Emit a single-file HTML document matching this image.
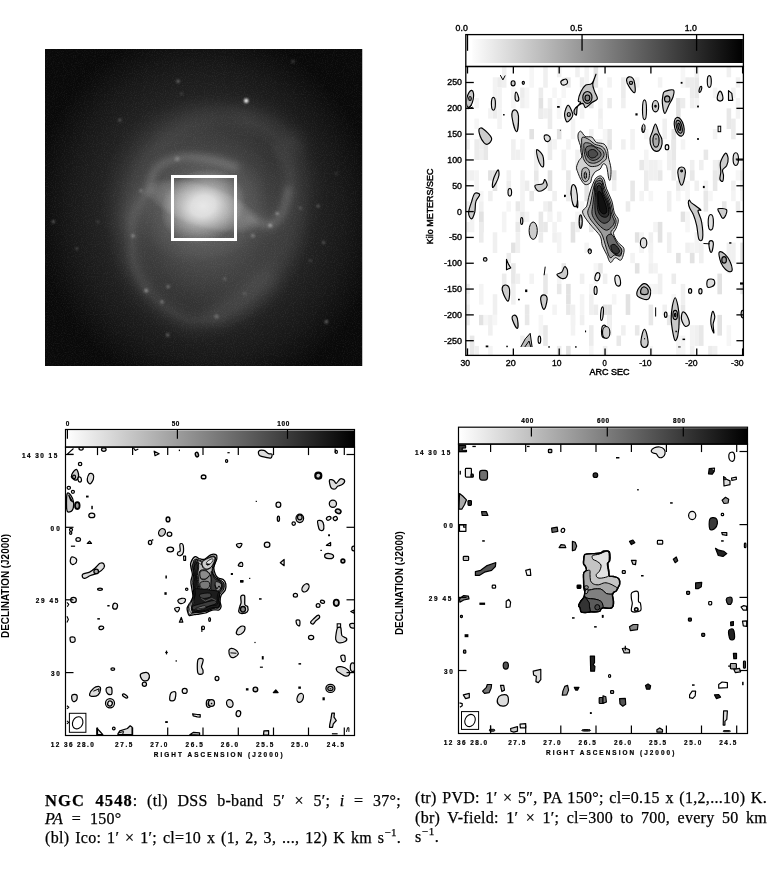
<!DOCTYPE html>
<html><head><meta charset="utf-8"><title>NGC 4548</title>
<style>
html,body{margin:0;padding:0;background:#fff;}
body{width:767px;height:872px;overflow:hidden;position:relative;font-family:"Liberation Serif", serif;}
svg{position:absolute;left:0;top:0;will-change:transform;}
.cap{will-change:transform;}
.cap{position:absolute;white-space:nowrap;font-family:"Liberation Serif",serif;font-size:16px;color:#000;line-height:18px;-webkit-text-stroke:0.25px #000;}
.cap sup{font-size:11px;line-height:0;position:relative;top:-1px;}
</style></head><body>
<svg width="767" height="872" viewBox="0 0 767 872">
<defs>
<filter id="b1" x="-50%" y="-50%" width="200%" height="200%"><feGaussianBlur stdDeviation="1.1"/></filter>
<filter id="b2" x="-50%" y="-50%" width="200%" height="200%"><feGaussianBlur stdDeviation="3.2"/></filter>
<filter id="b4" x="-50%" y="-50%" width="200%" height="200%"><feGaussianBlur stdDeviation="7"/></filter>
<filter id="b8" x="-50%" y="-50%" width="200%" height="200%"><feGaussianBlur stdDeviation="9"/></filter>
<radialGradient id="gdisk" cx="0.5" cy="0.5" r="0.5"><stop offset="0" stop-color="#fff" stop-opacity="0.42"/><stop offset="0.25" stop-color="#fff" stop-opacity="0.30"/><stop offset="0.5" stop-color="#fff" stop-opacity="0.17"/><stop offset="0.75" stop-color="#fff" stop-opacity="0.07"/><stop offset="1" stop-color="#fff" stop-opacity="0"/></radialGradient>
<radialGradient id="gcore" cx="0.5" cy="0.5" r="0.5"><stop offset="0" stop-color="#fff" stop-opacity="0.95"/><stop offset="0.3" stop-color="#fff" stop-opacity="0.7"/><stop offset="0.6" stop-color="#fff" stop-opacity="0.3"/><stop offset="1" stop-color="#fff" stop-opacity="0"/></radialGradient>
<linearGradient id="cbar" x1="0" x2="1" y1="0" y2="0"><stop offset="0" stop-color="#ffffff"/><stop offset="1" stop-color="#000000"/></linearGradient>
<clipPath id="cg"><rect x="45" y="49" width="317.5" height="317"/></clipPath>
<clipPath id="ctr"><rect x="466.5" y="66" width="277" height="289.5"/></clipPath>
<clipPath id="cbl"><rect x="65.5" y="447" width="289" height="288.5"/></clipPath>
<clipPath id="cbr"><rect x="458.5" y="444" width="289" height="289.5"/></clipPath>
</defs>
<defs>
<radialGradient id="g_out" cx="0.5" cy="0.5" r="0.5"><stop offset="0" stop-color="#fff" stop-opacity="0.17"/><stop offset="0.3" stop-color="#fff" stop-opacity="0.15"/><stop offset="0.55" stop-color="#fff" stop-opacity="0.115"/><stop offset="0.8" stop-color="#fff" stop-opacity="0.06"/><stop offset="1" stop-color="#fff" stop-opacity="0.0"/></radialGradient>
<radialGradient id="g_mid" cx="0.5" cy="0.5" r="0.5"><stop offset="0" stop-color="#fff" stop-opacity="0.17"/><stop offset="0.35" stop-color="#fff" stop-opacity="0.15"/><stop offset="0.65" stop-color="#fff" stop-opacity="0.085"/><stop offset="1" stop-color="#fff" stop-opacity="0"/></radialGradient>
<radialGradient id="g_ring" cx="0.5" cy="0.5" r="0.5"><stop offset="0" stop-color="#fff" stop-opacity="0.12"/><stop offset="0.5" stop-color="#fff" stop-opacity="0.09"/><stop offset="0.8" stop-color="#fff" stop-opacity="0.04"/><stop offset="1" stop-color="#fff" stop-opacity="0"/></radialGradient>
<radialGradient id="g_bar" cx="0.5" cy="0.5" r="0.5"><stop offset="0" stop-color="#fff" stop-opacity="0.3"/><stop offset="0.45" stop-color="#fff" stop-opacity="0.25"/><stop offset="0.8" stop-color="#fff" stop-opacity="0.14"/><stop offset="1" stop-color="#fff" stop-opacity="0"/></radialGradient>
<radialGradient id="g_core" cx="0.5" cy="0.5" r="0.5"><stop offset="0" stop-color="#fff" stop-opacity="0.78"/><stop offset="0.28" stop-color="#fff" stop-opacity="0.7"/><stop offset="0.52" stop-color="#fff" stop-opacity="0.44"/><stop offset="0.78" stop-color="#fff" stop-opacity="0.18"/><stop offset="1" stop-color="#fff" stop-opacity="0"/></radialGradient>
<filter id="grain" x="0" y="0" width="100%" height="100%"><feTurbulence type="fractalNoise" baseFrequency="0.9" numOctaves="2" seed="3" result="n"/><feColorMatrix type="matrix" values="0 0 0 0 1  0 0 0 0 1  0 0 0 0 1  0.9 0 0 0 -0.38"/></filter>
</defs>
<g clip-path="url(#cg)">
<rect x="45" y="49" width="317.5" height="317" fill="#090909"/>
<ellipse cx="207" cy="212" rx="172" ry="185" fill="url(#g_out)" transform="rotate(-15 207 212)"/>
<ellipse cx="206" cy="212" rx="105" ry="118" fill="url(#g_mid)" transform="rotate(-15 206 212)"/>
<path d="M127.6 222.6C128.7 216.4 129.7 197.1 133.8 185.4C138.0 173.7 144.5 161.9 152.4 152.3C160.4 142.7 170.3 133.7 181.4 127.5C192.4 121.3 205.5 116.8 218.6 115.1C231.6 113.4 247.5 112.7 259.9 117.2C272.3 121.7 287.4 137.8 292.9 142.0" fill="none" stroke="#fff" stroke-opacity="0.05" stroke-width="20" stroke-linecap="round" filter="url(#b4)"/>
<path d="M292.9 144.0C294.7 150.9 302.9 171.6 303.3 185.4C303.6 199.1 299.5 213.6 295.0 226.7C290.5 239.8 284.3 253.2 276.4 263.9C268.5 274.6 257.1 282.5 247.5 290.7C237.8 299.0 223.4 309.7 218.6 313.5" fill="none" stroke="#fff" stroke-opacity="0.05" stroke-width="20" stroke-linecap="round" filter="url(#b4)"/>
<path d="M146.2 193.6C144.2 197.1 136.3 207.4 133.8 214.3C131.4 221.2 131.8 226.7 131.8 235.0C131.8 243.2 131.4 254.9 133.8 263.9C136.3 272.8 141.1 281.4 146.2 288.7C151.4 295.9 157.6 301.9 164.8 307.3C172.1 312.6 180.7 319.2 189.6 320.9C198.6 322.6 209.6 320.2 218.6 317.6C227.5 315.0 235.1 311.4 243.3 305.2C251.6 299.0 264.0 284.5 268.1 280.4" fill="none" stroke="#fff" stroke-opacity="0.065" stroke-width="20" stroke-linecap="round" filter="url(#b4)"/>
<path d="M251.6 219.2C254.7 220.1 265.0 225.8 270.2 224.6C275.4 223.4 279.4 218.8 282.6 212.2C285.8 205.7 288.9 195.3 289.6 185.4C290.3 175.4 290.0 161.3 286.7 152.3C283.5 143.4 277.4 137.2 270.2 131.6C263.0 126.1 247.8 121.3 243.3 119.2" fill="none" stroke="#fff" stroke-opacity="0.055" stroke-width="18" stroke-linecap="round" filter="url(#b4)"/>
<path d="M148.3 191.6C149.7 187.8 151.1 174.6 156.6 168.8C162.1 163.1 172.4 158.8 181.4 157.3C190.3 155.7 201.3 158.2 210.3 159.7C219.2 161.3 231.0 165.6 235.1 166.8" fill="none" stroke="#fff" stroke-opacity="0.17" stroke-width="8" stroke-linecap="round" filter="url(#b2)"/>
<path d="M146.2 193.6C144.2 197.1 136.3 207.4 133.8 214.3C131.4 221.2 131.8 226.7 131.8 235.0C131.8 243.2 131.4 254.9 133.8 263.9C136.3 272.8 144.2 284.5 146.2 288.7" fill="none" stroke="#fff" stroke-opacity="0.07" stroke-width="7" stroke-linecap="round" filter="url(#b2)"/>
<path d="M251.6 219.2C254.7 220.1 265.0 225.8 270.2 224.6C275.4 223.4 279.5 218.1 282.6 212.2C285.7 206.4 287.8 193.3 288.8 189.5" fill="none" stroke="#fff" stroke-opacity="0.14" stroke-width="8" stroke-linecap="round" filter="url(#b2)"/>
<path d="M146.2 288.7C149.3 291.8 157.6 301.9 164.8 307.3C172.1 312.6 180.7 319.2 189.6 320.9C198.6 322.6 213.7 318.1 218.6 317.6" fill="none" stroke="#fff" stroke-opacity="0.04" stroke-width="7" stroke-linecap="round" filter="url(#b2)"/>
<path d="M276.4 148.2C278.5 152.3 287.1 164.7 288.8 173.0C290.5 181.2 287.1 193.6 286.7 197.8" fill="none" stroke="#fff" stroke-opacity="0.04" stroke-width="7" stroke-linecap="round" filter="url(#b2)"/>
<ellipse cx="203" cy="207" rx="68" ry="56" fill="url(#g_ring)" transform="rotate(-15 203 207)"/>
<ellipse cx="203" cy="206" rx="60" ry="22" fill="url(#g_bar)" transform="rotate(18 203 206)"/>
<ellipse cx="203" cy="206" rx="44" ry="36" fill="url(#g_core)" transform="rotate(-25 203 206)"/>
<circle cx="246.2" cy="100.7" r="2.2" fill="#fff" fill-opacity="0.95" filter="url(#b1)"/>
<circle cx="178.1" cy="81.2" r="1.6" fill="#fff" fill-opacity="0.35" filter="url(#b1)"/>
<circle cx="181.4" cy="93.6" r="1.2" fill="#fff" fill-opacity="0.25" filter="url(#b1)"/>
<circle cx="119.8" cy="120.1" r="1.5" fill="#fff" fill-opacity="0.3" filter="url(#b1)"/>
<circle cx="292.9" cy="61.4" r="1.6" fill="#fff" fill-opacity="0.22" filter="url(#b1)"/>
<circle cx="53.3" cy="221.7" r="1.6" fill="#fff" fill-opacity="0.3" filter="url(#b1)"/>
<circle cx="76.8" cy="248.6" r="1.3" fill="#fff" fill-opacity="0.25" filter="url(#b1)"/>
<circle cx="133.0" cy="235.8" r="1.9" fill="#fff" fill-opacity="0.3" filter="url(#b1)"/>
<circle cx="140.9" cy="190.7" r="1.6" fill="#fff" fill-opacity="0.25" filter="url(#b1)"/>
<circle cx="146.2" cy="290.7" r="1.9" fill="#fff" fill-opacity="0.4" filter="url(#b1)"/>
<circle cx="168.1" cy="286.6" r="1.6" fill="#fff" fill-opacity="0.35" filter="url(#b1)"/>
<circle cx="161.9" cy="301.9" r="1.7" fill="#fff" fill-opacity="0.35" filter="url(#b1)"/>
<circle cx="167.7" cy="335.0" r="1.8" fill="#fff" fill-opacity="0.3" filter="url(#b1)"/>
<circle cx="216.5" cy="316.4" r="2.0" fill="#fff" fill-opacity="0.25" filter="url(#b1)"/>
<circle cx="270.2" cy="225.4" r="2.0" fill="#fff" fill-opacity="0.42" filter="url(#b1)"/>
<circle cx="277.2" cy="213.5" r="1.6" fill="#fff" fill-opacity="0.4" filter="url(#b1)"/>
<circle cx="252.9" cy="235.8" r="2.0" fill="#fff" fill-opacity="0.25" filter="url(#b1)"/>
<circle cx="318.1" cy="206.0" r="1.5" fill="#fff" fill-opacity="0.3" filter="url(#b1)"/>
<circle cx="323.5" cy="242.4" r="1.5" fill="#fff" fill-opacity="0.28" filter="url(#b1)"/>
<circle cx="310.3" cy="260.6" r="1.3" fill="#fff" fill-opacity="0.22" filter="url(#b1)"/>
<circle cx="326.4" cy="321.7" r="1.8" fill="#fff" fill-opacity="0.35" filter="url(#b1)"/>
<circle cx="336.3" cy="173.8" r="1.2" fill="#fff" fill-opacity="0.18" filter="url(#b1)"/>
<circle cx="300.4" cy="208.1" r="1.4" fill="#fff" fill-opacity="0.25" filter="url(#b1)"/>
<circle cx="177.2" cy="158.9" r="2.4" fill="#fff" fill-opacity="0.22" filter="url(#b1)"/>
<circle cx="224.8" cy="278.8" r="1.6" fill="#fff" fill-opacity="0.2" filter="url(#b1)"/>
<circle cx="244.6" cy="293.6" r="1.4" fill="#fff" fill-opacity="0.2" filter="url(#b1)"/>
<circle cx="97.9" cy="221.7" r="1.3" fill="#fff" fill-opacity="0.2" filter="url(#b1)"/>
<rect x="45" y="49" width="317.5" height="317" fill="#fff" opacity="0.16" filter="url(#grain)"/>
</g>
<rect x="172.5" y="176.5" width="63" height="63" fill="none" stroke="#fff" stroke-width="3"/>
<rect x="469.8" y="39" width="273.09999999999997" height="24" fill="url(#cbar)"/>
<rect x="466.3" y="39" width="6" height="24" fill="#fff"/>
<g clip-path="url(#ctr)">
<rect x="465.2" y="98.0" width="4.58" height="10.3" fill="rgb(243,243,243)"/>
<rect x="465.2" y="139.3" width="4.58" height="10.3" fill="rgb(240,240,240)"/>
<rect x="465.2" y="170.3" width="4.58" height="10.3" fill="rgb(243,243,243)"/>
<rect x="465.2" y="201.3" width="4.58" height="10.3" fill="rgb(240,240,240)"/>
<rect x="465.2" y="221.9" width="4.58" height="10.3" fill="rgb(240,240,240)"/>
<rect x="465.2" y="283.9" width="4.58" height="10.3" fill="rgb(236,236,236)"/>
<rect x="465.2" y="294.2" width="4.58" height="20.7" fill="rgb(243,243,243)"/>
<rect x="465.2" y="304.6" width="4.58" height="20.7" fill="rgb(236,236,236)"/>
<rect x="469.8" y="170.3" width="4.58" height="10.3" fill="rgb(240,240,240)"/>
<rect x="469.8" y="211.6" width="4.58" height="20.7" fill="rgb(243,243,243)"/>
<rect x="469.8" y="335.6" width="4.58" height="20.7" fill="rgb(232,232,232)"/>
<rect x="474.4" y="98.0" width="4.58" height="10.3" fill="rgb(244,244,244)"/>
<rect x="474.4" y="118.6" width="4.58" height="10.3" fill="rgb(246,246,246)"/>
<rect x="474.4" y="139.3" width="4.58" height="20.7" fill="rgb(236,236,236)"/>
<rect x="474.4" y="170.3" width="4.58" height="20.7" fill="rgb(244,244,244)"/>
<rect x="474.4" y="345.9" width="4.58" height="20.7" fill="rgb(240,240,240)"/>
<rect x="479.0" y="129.0" width="4.58" height="20.7" fill="rgb(240,240,240)"/>
<rect x="479.0" y="149.6" width="4.58" height="10.3" fill="rgb(240,240,240)"/>
<rect x="479.0" y="190.9" width="4.58" height="10.3" fill="rgb(246,246,246)"/>
<rect x="479.0" y="201.3" width="4.58" height="20.7" fill="rgb(240,240,240)"/>
<rect x="479.0" y="211.6" width="4.58" height="20.7" fill="rgb(226,226,226)"/>
<rect x="479.0" y="221.9" width="4.58" height="20.7" fill="rgb(236,236,236)"/>
<rect x="479.0" y="283.9" width="4.58" height="20.7" fill="rgb(244,244,244)"/>
<rect x="479.0" y="314.9" width="4.58" height="10.3" fill="rgb(226,226,226)"/>
<rect x="483.5" y="139.3" width="4.58" height="20.7" fill="rgb(232,232,232)"/>
<rect x="483.5" y="314.9" width="4.58" height="10.3" fill="rgb(246,246,246)"/>
<rect x="488.1" y="108.3" width="4.58" height="10.3" fill="rgb(243,243,243)"/>
<rect x="488.1" y="170.3" width="4.58" height="10.3" fill="rgb(226,226,226)"/>
<rect x="488.1" y="190.9" width="4.58" height="10.3" fill="rgb(240,240,240)"/>
<rect x="488.1" y="314.9" width="4.58" height="20.7" fill="rgb(240,240,240)"/>
<rect x="488.1" y="345.9" width="4.58" height="10.3" fill="rgb(244,244,244)"/>
<rect x="492.7" y="77.3" width="4.58" height="20.7" fill="rgb(243,243,243)"/>
<rect x="492.7" y="98.0" width="4.58" height="10.3" fill="rgb(236,236,236)"/>
<rect x="492.7" y="108.3" width="4.58" height="10.3" fill="rgb(236,236,236)"/>
<rect x="492.7" y="170.3" width="4.58" height="20.7" fill="rgb(226,226,226)"/>
<rect x="492.7" y="232.3" width="4.58" height="20.7" fill="rgb(240,240,240)"/>
<rect x="492.7" y="294.2" width="4.58" height="20.7" fill="rgb(240,240,240)"/>
<rect x="492.7" y="314.9" width="4.58" height="10.3" fill="rgb(246,246,246)"/>
<rect x="497.3" y="77.3" width="4.58" height="10.3" fill="rgb(236,236,236)"/>
<rect x="497.3" y="87.6" width="4.58" height="20.7" fill="rgb(243,243,243)"/>
<rect x="497.3" y="108.3" width="4.58" height="20.7" fill="rgb(243,243,243)"/>
<rect x="497.3" y="356.2" width="4.58" height="10.3" fill="rgb(240,240,240)"/>
<rect x="501.9" y="67.0" width="4.58" height="20.7" fill="rgb(240,240,240)"/>
<rect x="501.9" y="211.6" width="4.58" height="20.7" fill="rgb(244,244,244)"/>
<rect x="501.9" y="273.6" width="4.58" height="10.3" fill="rgb(236,236,236)"/>
<rect x="501.9" y="283.9" width="4.58" height="10.3" fill="rgb(232,232,232)"/>
<rect x="506.5" y="170.3" width="4.58" height="10.3" fill="rgb(243,243,243)"/>
<rect x="506.5" y="180.6" width="4.58" height="10.3" fill="rgb(236,236,236)"/>
<rect x="506.5" y="201.3" width="4.58" height="10.3" fill="rgb(246,246,246)"/>
<rect x="506.5" y="252.9" width="4.58" height="10.3" fill="rgb(236,236,236)"/>
<rect x="511.1" y="87.6" width="4.58" height="20.7" fill="rgb(246,246,246)"/>
<rect x="511.1" y="139.3" width="4.58" height="20.7" fill="rgb(240,240,240)"/>
<rect x="511.1" y="242.6" width="4.58" height="10.3" fill="rgb(226,226,226)"/>
<rect x="511.1" y="263.2" width="4.58" height="20.7" fill="rgb(232,232,232)"/>
<rect x="511.1" y="283.9" width="4.58" height="20.7" fill="rgb(240,240,240)"/>
<rect x="515.6" y="149.6" width="4.58" height="10.3" fill="rgb(240,240,240)"/>
<rect x="515.6" y="201.3" width="4.58" height="10.3" fill="rgb(232,232,232)"/>
<rect x="515.6" y="211.6" width="4.58" height="20.7" fill="rgb(246,246,246)"/>
<rect x="515.6" y="221.9" width="4.58" height="10.3" fill="rgb(232,232,232)"/>
<rect x="515.6" y="232.3" width="4.58" height="20.7" fill="rgb(240,240,240)"/>
<rect x="515.6" y="273.6" width="4.58" height="10.3" fill="rgb(240,240,240)"/>
<rect x="520.2" y="87.6" width="4.58" height="10.3" fill="rgb(236,236,236)"/>
<rect x="520.2" y="98.0" width="4.58" height="10.3" fill="rgb(240,240,240)"/>
<rect x="520.2" y="139.3" width="4.58" height="20.7" fill="rgb(246,246,246)"/>
<rect x="520.2" y="170.3" width="4.58" height="20.7" fill="rgb(243,243,243)"/>
<rect x="520.2" y="190.9" width="4.58" height="20.7" fill="rgb(243,243,243)"/>
<rect x="520.2" y="211.6" width="4.58" height="10.3" fill="rgb(232,232,232)"/>
<rect x="520.2" y="335.6" width="4.58" height="10.3" fill="rgb(240,240,240)"/>
<rect x="524.8" y="87.6" width="4.58" height="20.7" fill="rgb(246,246,246)"/>
<rect x="524.8" y="180.6" width="4.58" height="10.3" fill="rgb(236,236,236)"/>
<rect x="524.8" y="211.6" width="4.58" height="10.3" fill="rgb(244,244,244)"/>
<rect x="524.8" y="304.6" width="4.58" height="10.3" fill="rgb(232,232,232)"/>
<rect x="524.8" y="314.9" width="4.58" height="10.3" fill="rgb(232,232,232)"/>
<rect x="529.4" y="67.0" width="4.58" height="20.7" fill="rgb(246,246,246)"/>
<rect x="529.4" y="129.0" width="4.58" height="10.3" fill="rgb(226,226,226)"/>
<rect x="529.4" y="190.9" width="4.58" height="10.3" fill="rgb(232,232,232)"/>
<rect x="529.4" y="273.6" width="4.58" height="10.3" fill="rgb(243,243,243)"/>
<rect x="534.0" y="149.6" width="4.58" height="20.7" fill="rgb(240,240,240)"/>
<rect x="534.0" y="170.3" width="4.58" height="20.7" fill="rgb(232,232,232)"/>
<rect x="534.0" y="180.6" width="4.58" height="10.3" fill="rgb(240,240,240)"/>
<rect x="538.6" y="87.6" width="4.58" height="10.3" fill="rgb(236,236,236)"/>
<rect x="538.6" y="98.0" width="4.58" height="20.7" fill="rgb(226,226,226)"/>
<rect x="538.6" y="108.3" width="4.58" height="10.3" fill="rgb(236,236,236)"/>
<rect x="538.6" y="211.6" width="4.58" height="20.7" fill="rgb(232,232,232)"/>
<rect x="538.6" y="232.3" width="4.58" height="10.3" fill="rgb(236,236,236)"/>
<rect x="538.6" y="314.9" width="4.58" height="20.7" fill="rgb(246,246,246)"/>
<rect x="543.2" y="67.0" width="4.58" height="20.7" fill="rgb(240,240,240)"/>
<rect x="543.2" y="108.3" width="4.58" height="10.3" fill="rgb(240,240,240)"/>
<rect x="543.2" y="201.3" width="4.58" height="10.3" fill="rgb(240,240,240)"/>
<rect x="543.2" y="221.9" width="4.58" height="10.3" fill="rgb(232,232,232)"/>
<rect x="543.2" y="273.6" width="4.58" height="20.7" fill="rgb(232,232,232)"/>
<rect x="543.2" y="325.2" width="4.58" height="20.7" fill="rgb(232,232,232)"/>
<rect x="547.7" y="98.0" width="4.58" height="10.3" fill="rgb(240,240,240)"/>
<rect x="547.7" y="108.3" width="4.58" height="20.7" fill="rgb(236,236,236)"/>
<rect x="547.7" y="139.3" width="4.58" height="20.7" fill="rgb(236,236,236)"/>
<rect x="547.7" y="170.3" width="4.58" height="20.7" fill="rgb(226,226,226)"/>
<rect x="547.7" y="201.3" width="4.58" height="20.7" fill="rgb(232,232,232)"/>
<rect x="547.7" y="211.6" width="4.58" height="10.3" fill="rgb(244,244,244)"/>
<rect x="547.7" y="356.2" width="4.58" height="10.3" fill="rgb(240,240,240)"/>
<rect x="552.3" y="87.6" width="4.58" height="10.3" fill="rgb(246,246,246)"/>
<rect x="552.3" y="139.3" width="4.58" height="10.3" fill="rgb(243,243,243)"/>
<rect x="552.3" y="190.9" width="4.58" height="10.3" fill="rgb(240,240,240)"/>
<rect x="552.3" y="221.9" width="4.58" height="10.3" fill="rgb(243,243,243)"/>
<rect x="552.3" y="232.3" width="4.58" height="10.3" fill="rgb(240,240,240)"/>
<rect x="552.3" y="304.6" width="4.58" height="10.3" fill="rgb(244,244,244)"/>
<rect x="556.9" y="67.0" width="4.58" height="10.3" fill="rgb(240,240,240)"/>
<rect x="556.9" y="98.0" width="4.58" height="20.7" fill="rgb(246,246,246)"/>
<rect x="556.9" y="108.3" width="4.58" height="10.3" fill="rgb(246,246,246)"/>
<rect x="556.9" y="129.0" width="4.58" height="10.3" fill="rgb(226,226,226)"/>
<rect x="556.9" y="211.6" width="4.58" height="10.3" fill="rgb(243,243,243)"/>
<rect x="556.9" y="232.3" width="4.58" height="20.7" fill="rgb(244,244,244)"/>
<rect x="556.9" y="273.6" width="4.58" height="10.3" fill="rgb(244,244,244)"/>
<rect x="556.9" y="283.9" width="4.58" height="10.3" fill="rgb(232,232,232)"/>
<rect x="556.9" y="345.9" width="4.58" height="20.7" fill="rgb(236,236,236)"/>
<rect x="561.5" y="77.3" width="4.58" height="20.7" fill="rgb(246,246,246)"/>
<rect x="561.5" y="149.6" width="4.58" height="20.7" fill="rgb(243,243,243)"/>
<rect x="561.5" y="263.2" width="4.58" height="10.3" fill="rgb(232,232,232)"/>
<rect x="566.1" y="77.3" width="4.58" height="10.3" fill="rgb(232,232,232)"/>
<rect x="566.1" y="139.3" width="4.58" height="10.3" fill="rgb(244,244,244)"/>
<rect x="566.1" y="170.3" width="4.58" height="10.3" fill="rgb(232,232,232)"/>
<rect x="566.1" y="180.6" width="4.58" height="20.7" fill="rgb(236,236,236)"/>
<rect x="566.1" y="283.9" width="4.58" height="10.3" fill="rgb(226,226,226)"/>
<rect x="566.1" y="294.2" width="4.58" height="10.3" fill="rgb(226,226,226)"/>
<rect x="566.1" y="304.6" width="4.58" height="10.3" fill="rgb(232,232,232)"/>
<rect x="566.1" y="345.9" width="4.58" height="20.7" fill="rgb(226,226,226)"/>
<rect x="570.7" y="118.6" width="4.58" height="20.7" fill="rgb(243,243,243)"/>
<rect x="570.7" y="221.9" width="4.58" height="20.7" fill="rgb(226,226,226)"/>
<rect x="570.7" y="304.6" width="4.58" height="20.7" fill="rgb(240,240,240)"/>
<rect x="570.7" y="314.9" width="4.58" height="20.7" fill="rgb(243,243,243)"/>
<rect x="570.7" y="356.2" width="4.58" height="20.7" fill="rgb(246,246,246)"/>
<rect x="575.2" y="67.0" width="4.58" height="10.3" fill="rgb(240,240,240)"/>
<rect x="575.2" y="149.6" width="4.58" height="20.7" fill="rgb(240,240,240)"/>
<rect x="575.2" y="211.6" width="4.58" height="10.3" fill="rgb(244,244,244)"/>
<rect x="575.2" y="221.9" width="4.58" height="10.3" fill="rgb(240,240,240)"/>
<rect x="579.8" y="77.3" width="4.58" height="10.3" fill="rgb(236,236,236)"/>
<rect x="579.8" y="87.6" width="4.58" height="10.3" fill="rgb(246,246,246)"/>
<rect x="579.8" y="98.0" width="4.58" height="20.7" fill="rgb(244,244,244)"/>
<rect x="579.8" y="201.3" width="4.58" height="20.7" fill="rgb(244,244,244)"/>
<rect x="579.8" y="273.6" width="4.58" height="10.3" fill="rgb(240,240,240)"/>
<rect x="579.8" y="294.2" width="4.58" height="20.7" fill="rgb(244,244,244)"/>
<rect x="579.8" y="314.9" width="4.58" height="10.3" fill="rgb(240,240,240)"/>
<rect x="579.8" y="356.2" width="4.58" height="10.3" fill="rgb(240,240,240)"/>
<rect x="584.4" y="67.0" width="4.58" height="20.7" fill="rgb(243,243,243)"/>
<rect x="584.4" y="180.6" width="4.58" height="20.7" fill="rgb(226,226,226)"/>
<rect x="584.4" y="242.6" width="4.58" height="10.3" fill="rgb(244,244,244)"/>
<rect x="589.0" y="87.6" width="4.58" height="20.7" fill="rgb(226,226,226)"/>
<rect x="589.0" y="129.0" width="4.58" height="10.3" fill="rgb(240,240,240)"/>
<rect x="589.0" y="221.9" width="4.58" height="10.3" fill="rgb(232,232,232)"/>
<rect x="589.0" y="283.9" width="4.58" height="10.3" fill="rgb(246,246,246)"/>
<rect x="589.0" y="294.2" width="4.58" height="20.7" fill="rgb(240,240,240)"/>
<rect x="589.0" y="325.2" width="4.58" height="20.7" fill="rgb(236,236,236)"/>
<rect x="589.0" y="345.9" width="4.58" height="20.7" fill="rgb(246,246,246)"/>
<rect x="593.6" y="67.0" width="4.58" height="20.7" fill="rgb(226,226,226)"/>
<rect x="593.6" y="139.3" width="4.58" height="10.3" fill="rgb(236,236,236)"/>
<rect x="593.6" y="159.9" width="4.58" height="10.3" fill="rgb(240,240,240)"/>
<rect x="593.6" y="190.9" width="4.58" height="20.7" fill="rgb(226,226,226)"/>
<rect x="593.6" y="263.2" width="4.58" height="20.7" fill="rgb(246,246,246)"/>
<rect x="593.6" y="304.6" width="4.58" height="10.3" fill="rgb(236,236,236)"/>
<rect x="598.2" y="87.6" width="4.58" height="20.7" fill="rgb(246,246,246)"/>
<rect x="598.2" y="108.3" width="4.58" height="20.7" fill="rgb(240,240,240)"/>
<rect x="598.2" y="118.6" width="4.58" height="10.3" fill="rgb(244,244,244)"/>
<rect x="598.2" y="139.3" width="4.58" height="10.3" fill="rgb(236,236,236)"/>
<rect x="598.2" y="149.6" width="4.58" height="10.3" fill="rgb(232,232,232)"/>
<rect x="598.2" y="263.2" width="4.58" height="10.3" fill="rgb(232,232,232)"/>
<rect x="602.8" y="129.0" width="4.58" height="20.7" fill="rgb(246,246,246)"/>
<rect x="602.8" y="221.9" width="4.58" height="10.3" fill="rgb(243,243,243)"/>
<rect x="602.8" y="273.6" width="4.58" height="10.3" fill="rgb(240,240,240)"/>
<rect x="602.8" y="304.6" width="4.58" height="10.3" fill="rgb(226,226,226)"/>
<rect x="602.8" y="345.9" width="4.58" height="10.3" fill="rgb(240,240,240)"/>
<rect x="607.3" y="77.3" width="4.58" height="10.3" fill="rgb(243,243,243)"/>
<rect x="607.3" y="98.0" width="4.58" height="10.3" fill="rgb(236,236,236)"/>
<rect x="607.3" y="129.0" width="4.58" height="10.3" fill="rgb(232,232,232)"/>
<rect x="607.3" y="139.3" width="4.58" height="10.3" fill="rgb(226,226,226)"/>
<rect x="607.3" y="211.6" width="4.58" height="10.3" fill="rgb(243,243,243)"/>
<rect x="607.3" y="232.3" width="4.58" height="10.3" fill="rgb(236,236,236)"/>
<rect x="607.3" y="304.6" width="4.58" height="20.7" fill="rgb(226,226,226)"/>
<rect x="607.3" y="314.9" width="4.58" height="20.7" fill="rgb(240,240,240)"/>
<rect x="611.9" y="170.3" width="4.58" height="10.3" fill="rgb(226,226,226)"/>
<rect x="611.9" y="180.6" width="4.58" height="10.3" fill="rgb(240,240,240)"/>
<rect x="611.9" y="294.2" width="4.58" height="10.3" fill="rgb(246,246,246)"/>
<rect x="616.5" y="335.6" width="4.58" height="10.3" fill="rgb(232,232,232)"/>
<rect x="621.1" y="77.3" width="4.58" height="20.7" fill="rgb(236,236,236)"/>
<rect x="621.1" y="98.0" width="4.58" height="10.3" fill="rgb(240,240,240)"/>
<rect x="621.1" y="139.3" width="4.58" height="10.3" fill="rgb(240,240,240)"/>
<rect x="621.1" y="325.2" width="4.58" height="10.3" fill="rgb(240,240,240)"/>
<rect x="625.7" y="201.3" width="4.58" height="10.3" fill="rgb(236,236,236)"/>
<rect x="625.7" y="294.2" width="4.58" height="20.7" fill="rgb(226,226,226)"/>
<rect x="630.3" y="129.0" width="4.58" height="20.7" fill="rgb(243,243,243)"/>
<rect x="630.3" y="180.6" width="4.58" height="20.7" fill="rgb(232,232,232)"/>
<rect x="630.3" y="252.9" width="4.58" height="10.3" fill="rgb(243,243,243)"/>
<rect x="634.9" y="77.3" width="4.58" height="10.3" fill="rgb(244,244,244)"/>
<rect x="634.9" y="232.3" width="4.58" height="10.3" fill="rgb(226,226,226)"/>
<rect x="634.9" y="263.2" width="4.58" height="10.3" fill="rgb(226,226,226)"/>
<rect x="634.9" y="325.2" width="4.58" height="10.3" fill="rgb(232,232,232)"/>
<rect x="639.4" y="159.9" width="4.58" height="10.3" fill="rgb(232,232,232)"/>
<rect x="639.4" y="190.9" width="4.58" height="10.3" fill="rgb(244,244,244)"/>
<rect x="639.4" y="232.3" width="4.58" height="20.7" fill="rgb(244,244,244)"/>
<rect x="639.4" y="242.6" width="4.58" height="10.3" fill="rgb(244,244,244)"/>
<rect x="644.0" y="129.0" width="4.58" height="10.3" fill="rgb(246,246,246)"/>
<rect x="644.0" y="149.6" width="4.58" height="20.7" fill="rgb(244,244,244)"/>
<rect x="644.0" y="170.3" width="4.58" height="20.7" fill="rgb(236,236,236)"/>
<rect x="648.6" y="159.9" width="4.58" height="20.7" fill="rgb(240,240,240)"/>
<rect x="648.6" y="190.9" width="4.58" height="10.3" fill="rgb(246,246,246)"/>
<rect x="648.6" y="232.3" width="4.58" height="20.7" fill="rgb(240,240,240)"/>
<rect x="648.6" y="242.6" width="4.58" height="10.3" fill="rgb(243,243,243)"/>
<rect x="648.6" y="252.9" width="4.58" height="10.3" fill="rgb(244,244,244)"/>
<rect x="648.6" y="263.2" width="4.58" height="10.3" fill="rgb(240,240,240)"/>
<rect x="648.6" y="283.9" width="4.58" height="10.3" fill="rgb(246,246,246)"/>
<rect x="648.6" y="304.6" width="4.58" height="20.7" fill="rgb(232,232,232)"/>
<rect x="648.6" y="345.9" width="4.58" height="20.7" fill="rgb(246,246,246)"/>
<rect x="653.2" y="159.9" width="4.58" height="20.7" fill="rgb(240,240,240)"/>
<rect x="653.2" y="221.9" width="4.58" height="10.3" fill="rgb(244,244,244)"/>
<rect x="653.2" y="263.2" width="4.58" height="10.3" fill="rgb(243,243,243)"/>
<rect x="653.2" y="283.9" width="4.58" height="10.3" fill="rgb(244,244,244)"/>
<rect x="657.8" y="77.3" width="4.58" height="10.3" fill="rgb(243,243,243)"/>
<rect x="657.8" y="159.9" width="4.58" height="20.7" fill="rgb(246,246,246)"/>
<rect x="657.8" y="170.3" width="4.58" height="10.3" fill="rgb(232,232,232)"/>
<rect x="657.8" y="221.9" width="4.58" height="20.7" fill="rgb(226,226,226)"/>
<rect x="657.8" y="273.6" width="4.58" height="20.7" fill="rgb(240,240,240)"/>
<rect x="662.4" y="118.6" width="4.58" height="20.7" fill="rgb(240,240,240)"/>
<rect x="662.4" y="304.6" width="4.58" height="10.3" fill="rgb(240,240,240)"/>
<rect x="666.9" y="149.6" width="4.58" height="20.7" fill="rgb(240,240,240)"/>
<rect x="666.9" y="190.9" width="4.58" height="20.7" fill="rgb(240,240,240)"/>
<rect x="666.9" y="232.3" width="4.58" height="20.7" fill="rgb(240,240,240)"/>
<rect x="666.9" y="314.9" width="4.58" height="10.3" fill="rgb(232,232,232)"/>
<rect x="671.5" y="129.0" width="4.58" height="20.7" fill="rgb(226,226,226)"/>
<rect x="671.5" y="139.3" width="4.58" height="20.7" fill="rgb(232,232,232)"/>
<rect x="671.5" y="159.9" width="4.58" height="20.7" fill="rgb(236,236,236)"/>
<rect x="671.5" y="273.6" width="4.58" height="10.3" fill="rgb(236,236,236)"/>
<rect x="671.5" y="294.2" width="4.58" height="20.7" fill="rgb(246,246,246)"/>
<rect x="676.1" y="98.0" width="4.58" height="20.7" fill="rgb(226,226,226)"/>
<rect x="676.1" y="118.6" width="4.58" height="10.3" fill="rgb(240,240,240)"/>
<rect x="676.1" y="180.6" width="4.58" height="10.3" fill="rgb(232,232,232)"/>
<rect x="676.1" y="190.9" width="4.58" height="10.3" fill="rgb(246,246,246)"/>
<rect x="676.1" y="252.9" width="4.58" height="10.3" fill="rgb(226,226,226)"/>
<rect x="676.1" y="314.9" width="4.58" height="10.3" fill="rgb(226,226,226)"/>
<rect x="676.1" y="335.6" width="4.58" height="20.7" fill="rgb(244,244,244)"/>
<rect x="680.7" y="67.0" width="4.58" height="20.7" fill="rgb(246,246,246)"/>
<rect x="680.7" y="98.0" width="4.58" height="10.3" fill="rgb(236,236,236)"/>
<rect x="680.7" y="139.3" width="4.58" height="10.3" fill="rgb(244,244,244)"/>
<rect x="680.7" y="170.3" width="4.58" height="20.7" fill="rgb(243,243,243)"/>
<rect x="680.7" y="211.6" width="4.58" height="10.3" fill="rgb(226,226,226)"/>
<rect x="680.7" y="283.9" width="4.58" height="20.7" fill="rgb(240,240,240)"/>
<rect x="680.7" y="304.6" width="4.58" height="10.3" fill="rgb(232,232,232)"/>
<rect x="680.7" y="335.6" width="4.58" height="20.7" fill="rgb(244,244,244)"/>
<rect x="680.7" y="345.9" width="4.58" height="10.3" fill="rgb(246,246,246)"/>
<rect x="685.3" y="77.3" width="4.58" height="10.3" fill="rgb(236,236,236)"/>
<rect x="685.3" y="180.6" width="4.58" height="20.7" fill="rgb(246,246,246)"/>
<rect x="685.3" y="211.6" width="4.58" height="20.7" fill="rgb(246,246,246)"/>
<rect x="685.3" y="242.6" width="4.58" height="10.3" fill="rgb(240,240,240)"/>
<rect x="689.9" y="77.3" width="4.58" height="20.7" fill="rgb(236,236,236)"/>
<rect x="689.9" y="98.0" width="4.58" height="10.3" fill="rgb(240,240,240)"/>
<rect x="689.9" y="159.9" width="4.58" height="20.7" fill="rgb(240,240,240)"/>
<rect x="689.9" y="170.3" width="4.58" height="10.3" fill="rgb(232,232,232)"/>
<rect x="689.9" y="242.6" width="4.58" height="20.7" fill="rgb(244,244,244)"/>
<rect x="689.9" y="252.9" width="4.58" height="10.3" fill="rgb(226,226,226)"/>
<rect x="689.9" y="325.2" width="4.58" height="20.7" fill="rgb(243,243,243)"/>
<rect x="689.9" y="345.9" width="4.58" height="10.3" fill="rgb(240,240,240)"/>
<rect x="694.5" y="67.0" width="4.58" height="10.3" fill="rgb(240,240,240)"/>
<rect x="694.5" y="77.3" width="4.58" height="20.7" fill="rgb(232,232,232)"/>
<rect x="694.5" y="98.0" width="4.58" height="10.3" fill="rgb(243,243,243)"/>
<rect x="694.5" y="180.6" width="4.58" height="10.3" fill="rgb(240,240,240)"/>
<rect x="694.5" y="232.3" width="4.58" height="20.7" fill="rgb(243,243,243)"/>
<rect x="694.5" y="325.2" width="4.58" height="20.7" fill="rgb(240,240,240)"/>
<rect x="694.5" y="356.2" width="4.58" height="10.3" fill="rgb(246,246,246)"/>
<rect x="699.0" y="159.9" width="4.58" height="10.3" fill="rgb(240,240,240)"/>
<rect x="699.0" y="221.9" width="4.58" height="10.3" fill="rgb(240,240,240)"/>
<rect x="699.0" y="242.6" width="4.58" height="20.7" fill="rgb(240,240,240)"/>
<rect x="699.0" y="325.2" width="4.58" height="20.7" fill="rgb(232,232,232)"/>
<rect x="703.6" y="149.6" width="4.58" height="10.3" fill="rgb(232,232,232)"/>
<rect x="703.6" y="180.6" width="4.58" height="20.7" fill="rgb(243,243,243)"/>
<rect x="703.6" y="190.9" width="4.58" height="20.7" fill="rgb(232,232,232)"/>
<rect x="703.6" y="356.2" width="4.58" height="10.3" fill="rgb(226,226,226)"/>
<rect x="708.2" y="190.9" width="4.58" height="10.3" fill="rgb(246,246,246)"/>
<rect x="708.2" y="345.9" width="4.58" height="20.7" fill="rgb(236,236,236)"/>
<rect x="712.8" y="87.6" width="4.58" height="10.3" fill="rgb(244,244,244)"/>
<rect x="712.8" y="129.0" width="4.58" height="10.3" fill="rgb(243,243,243)"/>
<rect x="712.8" y="159.9" width="4.58" height="20.7" fill="rgb(240,240,240)"/>
<rect x="712.8" y="170.3" width="4.58" height="20.7" fill="rgb(232,232,232)"/>
<rect x="712.8" y="345.9" width="4.58" height="20.7" fill="rgb(240,240,240)"/>
<rect x="717.4" y="159.9" width="4.58" height="20.7" fill="rgb(232,232,232)"/>
<rect x="717.4" y="273.6" width="4.58" height="20.7" fill="rgb(226,226,226)"/>
<rect x="717.4" y="314.9" width="4.58" height="20.7" fill="rgb(226,226,226)"/>
<rect x="722.0" y="201.3" width="4.58" height="10.3" fill="rgb(232,232,232)"/>
<rect x="726.6" y="67.0" width="4.58" height="10.3" fill="rgb(240,240,240)"/>
<rect x="726.6" y="108.3" width="4.58" height="20.7" fill="rgb(232,232,232)"/>
<rect x="726.6" y="242.6" width="4.58" height="20.7" fill="rgb(240,240,240)"/>
<rect x="726.6" y="263.2" width="4.58" height="10.3" fill="rgb(243,243,243)"/>
<rect x="726.6" y="325.2" width="4.58" height="20.7" fill="rgb(246,246,246)"/>
<rect x="731.1" y="87.6" width="4.58" height="10.3" fill="rgb(243,243,243)"/>
<rect x="731.1" y="118.6" width="4.58" height="20.7" fill="rgb(236,236,236)"/>
<rect x="731.1" y="180.6" width="4.58" height="10.3" fill="rgb(240,240,240)"/>
<rect x="731.1" y="190.9" width="4.58" height="10.3" fill="rgb(244,244,244)"/>
<rect x="731.1" y="242.6" width="4.58" height="20.7" fill="rgb(240,240,240)"/>
<rect x="735.7" y="77.3" width="4.58" height="10.3" fill="rgb(240,240,240)"/>
<rect x="735.7" y="98.0" width="4.58" height="20.7" fill="rgb(243,243,243)"/>
<rect x="735.7" y="170.3" width="4.58" height="10.3" fill="rgb(246,246,246)"/>
<rect x="735.7" y="201.3" width="4.58" height="10.3" fill="rgb(236,236,236)"/>
<rect x="740.3" y="159.9" width="4.58" height="20.7" fill="rgb(243,243,243)"/>
<rect x="740.3" y="170.3" width="4.58" height="20.7" fill="rgb(232,232,232)"/>
<rect x="740.3" y="180.6" width="4.58" height="10.3" fill="rgb(240,240,240)"/>
<rect x="740.3" y="190.9" width="4.58" height="10.3" fill="rgb(243,243,243)"/>
<rect x="740.3" y="242.6" width="4.58" height="20.7" fill="rgb(226,226,226)"/>
<rect x="740.3" y="283.9" width="4.58" height="10.3" fill="rgb(232,232,232)"/>
<ellipse cx="470.0" cy="98.9" rx="3.2" ry="8.7" fill="#c8c8c8" stroke="#000" stroke-width="1.15" transform="rotate(12 470.0 98.9)"/>
<ellipse cx="470.0" cy="98.5" rx="1.3" ry="2.0" fill="#aaa" stroke="#000" stroke-width="1.15"/>
<path d="M471.5 105.2L467.8 108.9L472.9 107.1" fill="none" stroke="#000" stroke-width="1" stroke-linejoin="round"/>
<path d="M500.3 75.1L502.9 79.9L505.2 75.5" fill="none" stroke="#000" stroke-width="1" stroke-linejoin="round"/>
<ellipse cx="513.1" cy="83.3" rx="2.0" ry="2.6" fill="#ccc" stroke="#000" stroke-width="1.15"/>
<ellipse cx="523.3" cy="82.8" rx="1.1" ry="1.5" fill="#bbb" stroke="#000" stroke-width="1.15"/>
<ellipse cx="493.4" cy="103.8" rx="2.0" ry="6.4" fill="#ddd" stroke="#000" stroke-width="1.15"/>
<path d="M0.00 -4.56 C0.64 -4.56 1.55 -1.14 1.83 1.83 C1.83 5.48 -1.83 5.48 -1.83 1.83 C-1.55 -1.14 -0.64 -4.56 0.00 -4.56Z" fill="#ddd" stroke="#000" stroke-width="1.15" stroke-linejoin="round" transform="translate(516.7 96.7) rotate(-8)"/>
<path d="M0.00 -10.95 C1.15 -10.95 2.79 -2.74 3.29 4.38 C3.29 13.14 -3.29 13.14 -3.29 4.38 C-2.79 -2.74 -1.15 -10.95 0.00 -10.95Z" fill="#d8d8d8" stroke="#000" stroke-width="1.15" stroke-linejoin="round" transform="translate(515.6 120.8) rotate(175)"/>
<path d="M479.1 129.0C479.7 127.8 481.3 127.4 483.3 129.0C485.4 130.5 490.8 135.6 491.6 138.1C492.3 140.6 489.2 143.4 487.9 144.1C486.6 144.9 485.2 144.0 483.9 142.7C482.6 141.3 481.0 138.5 480.2 136.3C479.4 134.0 478.6 130.2 479.1 129.0Z" fill="#ccc" stroke="#000" stroke-width="1.15" stroke-linejoin="round"/>
<path d="M561.3 81.0C562.0 80.1 565.0 78.8 566.0 79.1C567.1 79.4 567.7 81.8 567.5 82.8C567.2 83.8 565.5 84.7 564.6 85.0C563.6 85.2 562.2 84.9 561.6 84.3C561.1 83.6 560.5 81.8 561.3 81.0Z" fill="#e0e0e0" stroke="#000" stroke-width="1.15" stroke-linejoin="round"/>
<rect x="557.1" y="106.0" width="2.6" height="1.8" fill="#000"/>
<rect x="503.1" y="114.0" width="1.5" height="1.5" fill="#000"/>
<rect x="559.9" y="129.8" width="0.9" height="0.9" fill="#000"/>
<path d="M568.2 105.2C569.6 105.3 572.3 112.1 572.8 114.4C573.2 116.6 571.9 117.7 570.9 118.9C569.9 120.1 567.8 122.5 566.7 121.7C565.7 120.8 564.3 116.6 564.6 113.8C564.8 111.1 566.8 105.1 568.2 105.2Z" fill="#ccc" stroke="#000" stroke-width="1.15" stroke-linejoin="round"/>
<ellipse cx="568.8" cy="114.5" rx="1.6" ry="2.0" fill="#aaa" stroke="#000" stroke-width="1.15"/>
<path d="M596.0 74.2C595.8 74.1 593.7 81.5 591.9 83.3C590.2 85.2 587.4 83.8 585.5 85.2C583.7 86.5 582.2 89.0 581.0 91.6C579.8 94.1 578.3 98.9 578.2 100.7C578.2 102.5 580.8 101.4 580.6 102.5C580.5 103.6 578.0 105.0 577.3 107.1C576.6 109.1 577.0 114.0 576.4 114.9C575.9 115.8 574.2 113.7 574.0 112.5C573.9 111.4 574.0 109.5 575.5 108.0C577.0 106.5 581.1 103.5 582.8 103.4C584.5 103.4 584.0 107.8 585.5 107.6C587.1 107.5 590.0 104.0 591.9 102.5C593.9 101.0 597.0 100.7 597.4 98.9C597.9 97.0 595.4 94.0 594.7 91.6C593.9 89.1 592.6 87.1 592.8 84.3C593.1 81.4 596.1 74.4 596.0 74.2Z" fill="#c4c4c4" stroke="#000" stroke-width="1.15" stroke-linejoin="round"/>
<ellipse cx="587.4" cy="97.4" rx="4.6" ry="5.9" fill="#aaa" stroke="#000" stroke-width="1.15"/>
<ellipse cx="587.4" cy="97.9" rx="2.4" ry="2.9" fill="#888" stroke="#000" stroke-width="1.15"/>
<path d="M544.5 135.4C545.1 134.6 547.5 134.7 548.5 135.4C549.5 136.0 550.4 138.0 550.3 139.0C550.2 140.0 548.7 141.4 547.8 141.6C546.9 141.7 545.4 140.8 544.8 139.7C544.3 138.7 543.9 136.1 544.5 135.4Z" fill="#ddd" stroke="#000" stroke-width="1.15" stroke-linejoin="round"/>
<path d="M536.8 149.6C537.7 149.3 541.5 152.7 542.7 155.4C543.8 158.2 543.9 164.3 543.6 166.0C543.3 167.7 541.8 166.9 540.8 165.5C539.8 164.0 538.2 159.9 537.5 157.3C536.9 154.6 536.0 149.9 536.8 149.6Z" fill="#ccc" stroke="#000" stroke-width="1.15" stroke-linejoin="round"/>
<path d="M497.9 170.0C498.9 169.4 499.2 173.4 498.9 175.5C498.5 177.6 497.2 180.8 496.1 182.8C495.1 184.8 492.9 188.0 492.5 187.4C492.0 186.8 492.5 182.0 493.4 179.2C494.3 176.3 497.0 170.6 497.9 170.0Z" fill="#d8d8d8" stroke="#000" stroke-width="1.15" stroke-linejoin="round"/>
<path d="M535.0 185.5C535.8 184.3 541.0 184.7 542.7 183.7C544.3 182.7 544.1 179.2 544.8 179.5C545.6 179.8 547.4 183.8 547.2 185.5C547.0 187.3 545.1 188.8 543.6 189.7C542.0 190.7 539.5 191.7 538.1 191.0C536.7 190.3 534.2 186.8 535.0 185.5Z" fill="#ccc" stroke="#000" stroke-width="1.15" stroke-linejoin="round"/>
<ellipse cx="509.8" cy="192.3" rx="1.8" ry="3.8" fill="#e0e0e0" stroke="#000" stroke-width="1.15"/>
<path d="M474.8 193.4C476.1 192.2 479.5 193.3 479.7 194.7C479.9 196.0 476.7 198.5 475.9 201.4C475.0 204.3 475.5 209.1 474.8 212.0C474.0 214.9 472.5 218.8 471.5 218.9C470.4 219.1 468.6 215.8 468.6 212.9C468.6 210.1 470.4 205.2 471.5 202.0C472.5 198.7 473.4 194.6 474.8 193.4Z" fill="#ccc" stroke="#000" stroke-width="1.15" stroke-linejoin="round"/>
<path d="M574.0 185.5C575.0 185.2 575.8 188.3 576.4 191.9C577.0 195.6 578.0 205.8 577.7 207.4C577.4 209.1 575.7 204.3 574.6 202.0C573.5 199.7 571.0 196.5 570.9 193.8C570.9 191.0 573.1 185.9 574.0 185.5Z" fill="#d8d8d8" stroke="#000" stroke-width="1.15" stroke-linejoin="round"/>
<rect x="564.0" y="194.9" width="1.5" height="2.2" fill="#000"/>
<path d="M0.00 -8.40 C1.28 -8.40 3.10 -2.10 3.65 3.36 C3.65 10.07 -3.65 10.07 -3.65 3.36 C-3.10 -2.10 -1.28 -8.40 0.00 -8.40Z" fill="#ccc" stroke="#000" stroke-width="1.15" stroke-linejoin="round" transform="translate(631.7 84.8) rotate(160)"/>
<ellipse cx="631.0" cy="82.8" rx="1.6" ry="1.6" fill="#aaa" stroke="#000" stroke-width="1.15"/>
<ellipse cx="644.5" cy="109.8" rx="2.0" ry="9.9" fill="#d5d5d5" stroke="#000" stroke-width="1.15"/>
<ellipse cx="655.5" cy="106.2" rx="3.2" ry="5.7" fill="#ccc" stroke="#000" stroke-width="1.15"/>
<ellipse cx="655.5" cy="106.2" rx="0.7" ry="0.9" fill="#888" stroke="#000" stroke-width="1.15"/>
<path d="M664.6 91.6C666.4 90.5 672.0 89.2 673.4 90.1C674.8 91.0 673.8 94.5 673.0 97.0C672.2 99.6 670.2 102.5 668.8 105.2C667.4 108.0 665.8 113.8 664.8 113.5C663.7 113.1 662.7 106.3 662.4 103.4C662.1 100.5 662.4 98.1 662.8 96.1C663.1 94.1 662.8 92.6 664.6 91.6Z" fill="#ccc" stroke="#000" stroke-width="1.15" stroke-linejoin="round"/>
<ellipse cx="667.2" cy="98.9" rx="2.7" ry="3.1" fill="#aaa" stroke="#000" stroke-width="1.15"/>
<ellipse cx="643.2" cy="129.5" rx="1.3" ry="2.9" fill="#ddd" stroke="#000" stroke-width="1.15"/>
<path d="M655.5 124.0C656.5 124.2 657.7 130.0 658.8 132.6C659.8 135.3 661.7 137.3 662.0 139.9C662.4 142.5 661.9 146.2 660.9 148.1C660.0 150.0 658.1 151.5 656.6 151.4C655.0 151.4 652.9 149.8 651.8 147.8C650.7 145.7 649.9 141.7 650.0 139.0C650.1 136.3 651.5 134.2 652.4 131.7C653.3 129.2 654.4 123.9 655.5 124.0Z" fill="#c4c4c4" stroke="#000" stroke-width="1.15" stroke-linejoin="round"/>
<ellipse cx="656.0" cy="140.5" rx="3.1" ry="6.6" fill="#a8a8a8" stroke="#000" stroke-width="1.15"/>
<rect x="655.1" y="138.6" width="1.8" height="0.7" fill="#000"/>
<ellipse cx="667.0" cy="147.2" rx="1.8" ry="2.6" fill="#eee" stroke="#000" stroke-width="1.15"/>
<ellipse cx="679.2" cy="126.8" rx="4.6" ry="9.6" fill="#c0c0c0" stroke="#000" stroke-width="1.15" transform="rotate(-14 679.2 126.8)"/>
<ellipse cx="679.2" cy="126.8" rx="2.7" ry="6.6" fill="#999" stroke="#000" stroke-width="1.15" transform="rotate(-14 679.2 126.8)"/>
<ellipse cx="679.2" cy="126.8" rx="1.1" ry="3.7" fill="#777" stroke="#000" stroke-width="1.15" transform="rotate(-14 679.2 126.8)"/>
<rect x="680.7" y="81.9" width="1.8" height="1.8" fill="#000"/>
<ellipse cx="709.3" cy="81.5" rx="2.0" ry="5.9" fill="#ddd" stroke="#000" stroke-width="1.15"/>
<ellipse cx="700.4" cy="89.4" rx="1.1" ry="3.1" fill="#ccc" stroke="#000" stroke-width="1.15" transform="rotate(15 700.4 89.4)"/>
<path d="M0.00 -5.02 C1.02 -5.02 2.48 -1.25 2.92 2.01 C2.92 6.02 -2.92 6.02 -2.92 2.01 C-2.48 -1.25 -1.02 -5.02 0.00 -5.02Z" fill="#ddd" stroke="#000" stroke-width="1.15" stroke-linejoin="round" transform="translate(720.1 96.1) rotate(0)"/>
<path d="M728.5 90.6L731.8 93.4L732.7 100.3L728.5 100.3Z" fill="#e4e4e4" stroke="#000" stroke-width="1.15" stroke-linejoin="round"/>
<rect x="697.1" y="105.6" width="1.8" height="1.8" fill="#000"/>
<rect x="718.1" y="126.2" width="2.6" height="5.5" fill="#eee" stroke="#000"/>
<rect x="697.1" y="138.1" width="1.8" height="1.8" fill="#000"/>
<rect x="635.4" y="113.3" width="2.2" height="2.2" fill="#000"/>
<path d="M725.4 153.2C726.7 152.5 727.9 156.1 728.1 158.2C728.3 160.2 727.6 163.5 726.7 165.5C725.7 167.4 723.2 168.4 722.6 170.0C722.1 171.7 723.5 173.6 723.5 175.5C723.5 177.4 723.2 180.7 722.6 181.3C722.0 182.0 720.2 180.7 719.9 179.2C719.6 177.6 720.7 174.6 720.8 171.9C720.9 169.1 719.7 165.8 720.4 162.7C721.2 159.6 724.1 154.0 725.4 153.2Z" fill="#ccc" stroke="#000" stroke-width="1.15" stroke-linejoin="round"/>
<ellipse cx="735.8" cy="159.1" rx="2.7" ry="6.4" fill="#ddd" stroke="#000" stroke-width="1.15"/>
<line x1="735.7758715093995" y1="159.082679321044" x2="743" y2="159.082679321044" stroke="#000" stroke-width="1.2"/>
<path d="M0.00 -9.13 C1.34 -9.13 3.26 -2.28 3.83 3.65 C3.83 10.95 -3.83 10.95 -3.83 3.65 C-3.26 -2.28 -1.34 -9.13 0.00 -9.13Z" fill="#c8c8c8" stroke="#000" stroke-width="1.15" stroke-linejoin="round" transform="translate(681.6 176.1) rotate(180)"/>
<ellipse cx="681.6" cy="170.9" rx="0.9" ry="0.9" fill="#888" stroke="#000" stroke-width="1.15"/>
<rect x="702.9" y="185.9" width="1.8" height="2.2" fill="#000"/>
<ellipse cx="521.7" cy="221.0" rx="1.1" ry="3.5" fill="#eee" stroke="#000" stroke-width="1.15"/>
<ellipse cx="533.2" cy="230.7" rx="4.1" ry="8.7" fill="#ccc" stroke="#000" stroke-width="1.0"/>
<ellipse cx="580.6" cy="221.6" rx="1.5" ry="6.8" fill="#e8e8e8" stroke="#000" stroke-width="1.15"/>
<ellipse cx="485.2" cy="259.4" rx="1.8" ry="1.8" fill="#ccc" stroke="#000" stroke-width="1.15"/>
<path d="M506.5 259.4L508.3 263.9L510.7 267.9L506.5 269.8Z" fill="#ddd" stroke="#000" stroke-width="1.15" stroke-linejoin="round"/>
<line x1="545.2115349516336" y1="266.66709253513415" x2="544.11644460668" y2="275.2453002372696" stroke="#000" stroke-width="1"/>
<path d="M556.9 274.5C556.9 273.5 560.5 273.5 561.8 272.1C563.1 270.8 563.6 267.0 564.6 266.7C565.5 266.4 567.1 268.6 567.5 270.3C567.8 272.0 567.7 275.3 566.7 276.7C565.8 278.1 563.5 278.9 561.8 278.5C560.2 278.2 556.9 275.6 556.9 274.5Z" fill="#ccc" stroke="#000" stroke-width="1.15" stroke-linejoin="round"/>
<ellipse cx="589.7" cy="250.8" rx="1.6" ry="2.0" fill="#ccc" stroke="#000" stroke-width="1.15"/>
<ellipse cx="597.4" cy="276.7" rx="2.3" ry="4.1" fill="#eee" stroke="#000" stroke-width="1.15" transform="rotate(15 597.4 276.7)"/>
<ellipse cx="595.6" cy="290.4" rx="1.5" ry="4.1" fill="#ddd" stroke="#000" stroke-width="1.15"/>
<path d="M0.00 -8.21 C1.28 -8.21 3.10 -2.05 3.65 3.29 C3.65 9.86 -3.65 9.86 -3.65 3.29 C-3.10 -2.05 -1.28 -8.21 0.00 -8.21Z" fill="#ccc" stroke="#000" stroke-width="1.15" stroke-linejoin="round" transform="translate(506.5 293.1) rotate(170)"/>
<rect x="525.1" y="289.5" width="2.2" height="2.6" fill="#000"/>
<rect x="518.0" y="298.8" width="1.8" height="1.5" fill="#000"/>
<path d="M0.00 -7.30 C1.15 -7.30 2.79 -1.83 3.29 2.92 C3.29 8.76 -3.29 8.76 -3.29 2.92 C-2.79 -1.83 -1.15 -7.30 0.00 -7.30Z" fill="#ccc" stroke="#000" stroke-width="1.15" stroke-linejoin="round" transform="translate(543.9 302.1) rotate(180)"/>
<path d="M0.00 -6.84 C0.89 -6.84 2.17 -1.71 2.56 2.74 C2.56 8.21 -2.56 8.21 -2.56 2.74 C-2.17 -1.71 -0.89 -6.84 0.00 -6.84Z" fill="#ccc" stroke="#000" stroke-width="1.15" stroke-linejoin="round" transform="translate(515.6 321.8) rotate(165)"/>
<ellipse cx="602.0" cy="313.6" rx="1.3" ry="6.8" fill="#ddd" stroke="#000" stroke-width="1.15" transform="rotate(5 602.0 313.6)"/>
<path d="M520.8 347.0L525.3 338.8L530.2 333.3L532.1 347.0" fill="#bbb" stroke="#000" stroke-width="1" stroke-linejoin="round"/>
<path d="M524.8 347.0L529.0 341.0L530.8 347.0" fill="none" stroke="#000" stroke-width="1" stroke-linejoin="round"/>
<ellipse cx="539.4" cy="339.7" rx="1.3" ry="3.7" fill="#eee" stroke="#000" stroke-width="1.15"/>
<ellipse cx="604.2" cy="331.5" rx="2.7" ry="6.4" fill="#ccc" stroke="#000" stroke-width="1.15"/>
<rect x="585.0" y="330.5" width="1.1" height="1.8" fill="#000"/>
<rect x="485.7" y="345.5" width="2.6" height="1.8" fill="#000"/>
<rect x="506.3" y="345.7" width="1.5" height="1.5" fill="#000"/>
<rect x="548.3" y="346.2" width="1.5" height="1.5" fill="#000"/>
<rect x="575.1" y="346.2" width="1.5" height="1.5" fill="#000"/>
<path d="M689.4 200.0C689.9 200.0 689.4 201.0 691.2 202.6C693.1 204.2 699.6 208.5 700.7 209.9C701.9 211.3 697.8 209.0 698.0 211.0C698.1 213.0 700.9 217.4 701.6 222.0C702.4 226.5 703.0 235.5 702.6 238.4C702.1 241.3 699.9 241.4 698.9 239.3C697.9 237.2 697.6 229.7 696.7 225.6C695.8 221.5 694.6 217.5 693.4 214.7C692.3 211.8 690.6 210.2 689.8 208.3C688.9 206.3 688.4 204.2 688.3 202.8C688.3 201.4 688.9 200.1 689.4 200.0Z" fill="#ccc" stroke="#000" stroke-width="1.15" stroke-linejoin="round"/>
<ellipse cx="710.8" cy="222.3" rx="2.6" ry="7.8" fill="#e0e0e0" stroke="#000" stroke-width="1.15"/>
<path d="M718.1 208.8C719.1 208.1 725.0 208.6 726.3 209.5C727.6 210.5 726.5 213.2 725.9 214.7C725.3 216.1 723.6 218.5 722.6 218.3C721.6 218.1 720.7 215.3 719.9 213.7C719.1 212.2 717.0 209.5 718.1 208.8Z" fill="#ccc" stroke="#000" stroke-width="1.15" stroke-linejoin="round"/>
<ellipse cx="643.6" cy="242.9" rx="3.2" ry="5.0" fill="#ddd" stroke="#000" stroke-width="1.15"/>
<path d="M0.00 -5.93 C0.80 -5.93 1.94 -1.48 2.28 2.37 C2.28 7.12 -2.28 7.12 -2.28 2.37 C-1.94 -1.48 -0.80 -5.93 0.00 -5.93Z" fill="#ddd" stroke="#000" stroke-width="1.15" stroke-linejoin="round" transform="translate(711.1 246.6) rotate(180)"/>
<line x1="703.4707063332725" y1="243.48768023361927" x2="709.858733345501" y2="243.85271034860375" stroke="#000" stroke-width="1"/>
<rect x="729.2" y="242.2" width="2.2" height="1.5" fill="#000"/>
<path d="M719.3 252.1C720.1 251.2 722.7 252.4 724.5 253.9C726.2 255.4 728.7 258.5 729.9 261.2C731.2 263.9 732.4 268.6 732.1 270.3C731.8 272.0 729.7 272.0 728.1 271.2C726.5 270.5 724.0 267.7 722.6 265.8C721.3 263.8 720.4 261.6 719.9 259.4C719.3 257.1 718.6 253.0 719.3 252.1Z" fill="#c0c0c0" stroke="#000" stroke-width="1.15" stroke-linejoin="round"/>
<ellipse cx="724.1" cy="259.9" rx="2.3" ry="3.2" fill="#999" stroke="#000" stroke-width="1.15"/>
<ellipse cx="617.7" cy="280.7" rx="2.7" ry="5.5" fill="#e8e8e8" stroke="#000" stroke-width="1.15" transform="rotate(-10 617.7 280.7)"/>
<path d="M643.8 283.6C645.8 283.3 648.5 285.9 649.6 287.7C650.8 289.4 650.9 292.1 650.5 294.0C650.2 296.0 649.6 299.1 647.4 299.5C645.3 299.9 639.4 298.0 637.8 296.4C636.2 294.8 636.8 292.0 637.8 289.8C638.8 287.7 641.8 284.0 643.8 283.6Z" fill="#c8c8c8" stroke="#000" stroke-width="1.15" stroke-linejoin="round"/>
<path d="M643.8 286.7C644.9 286.7 647.2 288.3 647.8 289.5C648.4 290.7 648.5 293.3 647.4 294.0C646.4 294.8 642.5 294.7 641.4 294.0C640.3 293.3 640.5 291.1 640.9 289.8C641.3 288.6 642.6 286.8 643.8 286.7Z" fill="#aaa" stroke="#000" stroke-width="1.15" stroke-linejoin="round"/>
<path d="M707.7 280.0C708.7 278.8 712.4 278.8 713.5 279.4C714.7 280.1 714.9 282.8 714.6 284.0C714.3 285.2 712.9 286.3 711.7 286.7C710.5 287.2 708.0 287.9 707.3 286.7C706.6 285.6 706.6 281.2 707.7 280.0Z" fill="#ddd" stroke="#000" stroke-width="1.15" stroke-linejoin="round"/>
<ellipse cx="690.1" cy="290.9" rx="1.6" ry="2.3" fill="#ddd" stroke="#000" stroke-width="1.15"/>
<ellipse cx="700.4" cy="291.3" rx="1.6" ry="2.7" fill="#ddd" stroke="#000" stroke-width="1.15"/>
<rect x="740.0" y="282.4" width="3.7" height="2.2" fill="#000"/>
<path d="M675.2 297.7C676.1 297.7 677.2 302.4 677.9 305.9C678.6 309.4 679.2 313.8 679.2 318.7C679.2 323.6 678.6 331.5 677.9 335.1C677.2 338.8 676.0 340.9 675.2 340.6C674.4 340.3 673.7 336.9 673.0 333.3C672.3 329.6 671.3 323.2 671.2 318.7C671.1 314.1 671.8 309.4 672.4 305.9C673.1 302.4 674.3 297.7 675.2 297.7Z" fill="#c8c8c8" stroke="#000" stroke-width="1.15" stroke-linejoin="round"/>
<ellipse cx="675.2" cy="315.0" rx="2.3" ry="4.6" fill="#aaa" stroke="#000" stroke-width="1.15"/>
<ellipse cx="675.2" cy="315.0" rx="0.7" ry="1.6" fill="#888" stroke="#000" stroke-width="1.15"/>
<rect x="675.4" y="330.7" width="1.5" height="1.5" fill="#000"/>
<path d="M682.5 312.3C683.2 311.4 685.0 312.3 686.1 314.1C687.3 315.9 689.6 321.2 689.4 323.2C689.3 325.3 686.5 327.0 685.2 326.3C683.9 325.7 682.0 321.9 681.6 319.6C681.1 317.3 681.7 313.2 682.5 312.3Z" fill="#ddd" stroke="#000" stroke-width="1.15" stroke-linejoin="round"/>
<path d="M712.6 311.4C713.3 310.8 714.7 314.7 714.8 316.9C714.9 319.0 713.3 321.5 713.1 324.2C713.0 326.8 714.1 332.3 713.9 332.9C713.6 333.5 712.2 329.9 711.7 327.8C711.2 325.7 710.6 323.2 710.8 320.5C710.9 317.8 711.9 312.0 712.6 311.4Z" fill="#ddd" stroke="#000" stroke-width="1.15" stroke-linejoin="round"/>
<line x1="655.6517612703047" y1="307.3679503559043" x2="655.6517612703047" y2="316.49370323051653" stroke="#000" stroke-width="1"/>
<ellipse cx="665.7" cy="314.7" rx="1.3" ry="2.7" fill="#ddd" stroke="#000" stroke-width="1.15"/>
<path d="M0.00 -9.13 C1.28 -9.13 3.10 -2.28 3.65 3.65 C3.65 10.95 -3.65 10.95 -3.65 3.65 C-3.10 -2.28 -1.28 -9.13 0.00 -9.13Z" fill="#ccc" stroke="#000" stroke-width="1.15" stroke-linejoin="round" transform="translate(644.5 338.4) rotate(0)"/>
<rect x="644.0" y="338.2" width="1.1" height="1.1" fill="#000"/>
<ellipse cx="606.2" cy="332.4" rx="3.7" ry="5.9" fill="#ccc" stroke="#000" stroke-width="1.15"/>
<rect x="682.5" y="338.6" width="2.6" height="1.5" fill="#000"/>
<rect x="678.1" y="346.5" width="2.6" height="0.9" fill="#000"/>
<ellipse cx="742.7" cy="314.1" rx="1.6" ry="3.7" fill="#ddd" stroke="#000" stroke-width="1.15"/>
<ellipse cx="574.3" cy="195.7" rx="3.0" ry="11.2" fill="#ddd" stroke="#000" stroke-width="1.0" transform="rotate(-5 574.3 195.7)"/>
<ellipse cx="580.8" cy="221.5" rx="1.2" ry="6.5" fill="#eee" stroke="#000" stroke-width="1.0"/>
<rect x="564.2" y="194.8" width="1.6" height="1.8" fill="#000"/>
<ellipse cx="589.8" cy="251.7" rx="1.5" ry="2.1" fill="#bbb" stroke="#000" stroke-width="1.0"/>
<ellipse cx="643.6" cy="127.7" rx="1.5" ry="3.5" fill="#ccc" stroke="#000" stroke-width="1.0"/>
<path d="M580.8 131.2C582.0 131.6 583.3 135.3 585.1 136.4C587.0 137.4 590.1 136.2 592.0 137.2C593.9 138.2 594.3 141.2 596.3 142.4C598.3 143.5 602.2 142.8 604.1 144.1C605.9 145.4 606.8 148.0 607.5 150.1C608.2 152.3 607.8 154.0 608.4 157.0C608.9 160.0 610.6 164.5 610.9 168.2C611.3 171.9 610.8 177.7 610.4 179.4C610.0 181.1 609.3 180.7 608.7 178.5C608.1 176.4 607.6 168.9 606.6 166.5C605.7 164.0 604.3 163.5 603.2 163.9C602.1 164.3 601.4 167.8 600.1 169.1C598.8 170.3 596.8 170.3 595.4 171.6C594.1 172.9 592.9 174.9 592.0 176.8C591.1 178.7 591.4 181.5 590.3 182.8C589.1 184.1 586.7 185.1 585.1 184.5C583.5 184.0 582.0 181.2 580.8 179.4C579.7 177.5 579.0 175.4 578.2 173.4C577.5 171.3 576.4 169.5 576.5 167.3C576.7 165.2 578.2 162.2 579.1 160.4C580.0 158.7 581.4 158.6 581.7 157.0C582.0 155.4 581.0 152.8 580.8 151.0C580.6 149.1 580.9 147.8 580.5 145.8C580.0 143.8 578.6 140.9 578.2 138.9C577.9 136.9 577.8 135.1 578.2 133.8C578.7 132.5 579.7 130.8 580.8 131.2Z" fill="#d2d2d2" stroke="#000" stroke-width="0.9" stroke-linejoin="round"/>
<path d="M582.5 137.2C583.8 136.5 587.4 138.6 589.4 139.8C591.4 140.9 592.4 142.9 594.6 144.1C596.7 145.2 600.5 145.4 602.3 146.7C604.2 148.0 605.1 149.8 605.8 151.8C606.4 153.8 606.9 157.0 606.3 158.7C605.7 160.4 603.7 161.0 602.3 162.2C601.0 163.3 599.9 164.9 598.0 165.6C596.2 166.3 593.0 166.8 591.1 166.5C589.3 166.2 588.1 165.2 586.8 163.9C585.6 162.6 584.2 160.9 583.4 158.7C582.6 156.6 582.5 153.4 582.2 151.0C581.9 148.5 581.6 146.4 581.7 144.1C581.7 141.8 581.2 137.9 582.5 137.2Z" fill="#b0b0b0" stroke="#000" stroke-width="0.9" stroke-linejoin="round"/>
<path d="M584.3 143.2C585.2 142.4 587.6 142.7 589.4 143.2C591.3 143.8 593.4 145.7 595.4 146.7C597.5 147.7 600.0 148.0 601.5 149.3C602.9 150.6 604.1 152.7 604.1 154.4C604.1 156.1 602.8 158.2 601.5 159.6C600.2 161.0 598.0 162.1 596.3 162.7C594.6 163.3 592.7 163.4 591.1 163.0C589.6 162.7 587.9 161.9 586.8 160.4C585.8 159.0 585.1 156.4 584.6 154.4C584.1 152.4 584.0 150.3 583.9 148.4C583.9 146.5 583.3 144.1 584.3 143.2Z" fill="#8c8c8c" stroke="#000" stroke-width="0.9" stroke-linejoin="round"/>
<path d="M586.0 147.5C586.9 146.2 590.0 145.5 592.0 145.8C594.0 146.2 596.5 148.2 598.0 149.6C599.5 151.0 601.1 152.9 601.1 154.4C601.1 155.9 599.4 157.7 598.0 158.7C596.7 159.7 594.4 160.5 592.9 160.4C591.3 160.4 589.7 159.4 588.6 158.2C587.5 157.1 586.8 155.3 586.3 153.6C585.9 151.8 585.0 148.8 586.0 147.5Z" fill="#6c6c6c" stroke="#000" stroke-width="0.9" stroke-linejoin="round"/>
<path d="M588.6 151.0C589.4 150.0 592.2 149.2 593.7 149.6C595.2 150.0 597.4 152.3 597.7 153.6C598.0 154.8 596.5 156.3 595.4 157.0C594.4 157.7 592.3 158.2 591.1 157.9C590.0 157.6 589.0 156.4 588.6 155.3C588.1 154.1 587.7 151.9 588.6 151.0Z" fill="#4c4c4c" stroke="#000" stroke-width="0.9" stroke-linejoin="round"/>
<path d="M582.5 169.1C583.4 167.6 585.7 167.4 586.8 167.8C588.0 168.3 589.1 169.7 589.4 171.6C589.7 173.6 589.4 177.7 588.6 179.4C587.8 181.0 585.8 182.0 584.6 181.6C583.5 181.2 582.0 178.9 581.7 176.8C581.3 174.7 581.7 170.5 582.5 169.1Z" fill="#b4b4b4" stroke="#000" stroke-width="0.9" stroke-linejoin="round"/>
<ellipse cx="585.3" cy="175.4" rx="1.2" ry="3.5" fill="#909090" stroke="#000" stroke-width="1.0"/>
<path d="M596.3 177.7C597.5 176.7 599.3 175.7 600.6 175.9C601.9 176.2 603.0 177.2 604.1 179.4C605.1 181.5 605.3 185.3 606.6 188.8C607.9 192.4 610.5 196.9 611.8 200.9C613.1 204.9 613.3 209.8 614.4 212.9C615.5 216.1 618.1 217.2 618.3 219.8C618.6 222.4 616.9 226.1 616.1 228.4C615.3 230.7 613.2 231.3 613.5 233.6C613.8 235.9 616.1 239.8 617.8 242.2C619.5 244.6 623.0 245.9 623.8 248.2C624.7 250.5 623.6 254.0 623.0 256.0C622.4 258.0 621.7 260.0 620.4 260.3C619.1 260.6 616.9 257.3 615.2 257.7C613.6 258.1 611.9 263.1 610.4 262.5C609.0 261.9 608.0 257.1 606.6 254.3C605.3 251.4 603.3 248.5 602.3 245.6C601.3 242.8 601.8 239.6 600.6 237.0C599.5 234.5 597.5 232.6 595.4 230.2C593.4 227.7 590.7 225.4 588.6 222.4C586.4 219.4 582.8 214.8 582.5 212.1C582.3 209.4 585.8 208.5 586.8 206.1C587.8 203.6 587.8 200.3 588.6 197.5C589.3 194.6 590.3 191.4 591.1 188.8C592.0 186.3 592.9 183.8 593.7 182.0C594.6 180.1 595.2 178.7 596.3 177.7Z" fill="#cacaca" stroke="#000" stroke-width="0.9" stroke-linejoin="round"/>
<path d="M596.3 180.2C597.6 178.8 600.0 177.1 601.5 178.5C602.9 180.0 603.4 185.0 604.9 188.8C606.4 192.7 609.0 197.6 610.4 201.8C611.8 205.9 612.2 210.6 613.2 213.8C614.1 217.0 615.9 218.4 616.1 220.7C616.3 223.0 615.2 225.6 614.4 227.6C613.5 229.6 610.8 230.3 610.9 232.7C611.1 235.2 613.5 239.5 615.2 242.2C617.0 244.9 620.4 246.8 621.3 249.1C622.1 251.4 621.6 255.0 620.4 256.0C619.3 257.0 616.1 254.8 614.4 255.1C612.7 255.4 611.4 258.7 610.1 257.7C608.8 256.7 607.6 252.0 606.6 249.1C605.6 246.2 604.9 243.1 604.1 240.5C603.2 237.9 602.8 235.9 601.5 233.6C600.2 231.3 598.2 229.2 596.3 226.7C594.4 224.3 591.7 221.4 590.3 219.0C588.8 216.5 587.7 214.5 587.7 212.1C587.7 209.6 589.6 207.1 590.3 204.3C591.0 201.6 591.4 198.6 592.0 195.7C592.6 192.9 593.0 189.7 593.7 187.1C594.4 184.5 595.0 181.7 596.3 180.2Z" fill="#9c9c9c" stroke="#000" stroke-width="0.9" stroke-linejoin="round"/>
<path d="M595.4 182.8C596.7 180.7 600.0 179.8 601.5 181.1C602.9 182.4 602.8 187.0 604.1 190.6C605.3 194.2 607.9 198.6 609.2 202.6C610.5 206.6 610.9 211.5 611.8 214.7C612.7 217.8 614.4 219.5 614.4 221.5C614.4 223.6 613.1 225.3 611.8 226.7C610.5 228.1 608.5 230.2 606.6 230.2C604.8 230.2 602.5 228.3 600.6 226.7C598.7 225.1 596.9 222.8 595.4 220.7C594.0 218.5 592.4 216.5 592.0 213.8C591.6 211.1 592.5 207.6 592.9 204.3C593.2 201.0 593.8 197.6 594.2 194.0C594.7 190.4 594.2 185.0 595.4 182.8Z" fill="#727272" stroke="#000" stroke-width="0.9" stroke-linejoin="round"/>
<path d="M596.3 184.5C597.2 183.1 600.0 182.4 601.1 183.7C602.3 185.0 602.0 189.0 603.2 192.3C604.4 195.6 607.2 199.7 608.4 203.5C609.6 207.2 610.3 211.8 610.4 214.7C610.6 217.5 610.3 219.3 609.2 220.7C608.2 222.1 605.8 223.4 604.1 223.3C602.3 223.1 600.3 221.5 598.9 219.8C597.5 218.1 596.1 215.8 595.4 212.9C594.8 210.1 594.9 206.1 594.9 202.6C595.0 199.2 595.4 195.3 595.6 192.3C595.8 189.3 595.4 186.0 596.3 184.5Z" fill="#4a4a4a" stroke="#000" stroke-width="0.9" stroke-linejoin="round"/>
<path d="M597.2 187.1C597.8 185.0 599.7 185.1 600.6 186.3C601.6 187.4 601.7 191.0 602.8 194.0C604.0 197.0 606.5 201.0 607.5 204.3C608.5 207.6 609.0 211.7 608.7 213.8C608.4 216.0 607.1 217.0 605.8 217.2C604.4 217.5 602.0 216.8 600.6 215.5C599.3 214.2 598.3 212.2 597.7 209.5C597.1 206.8 597.1 202.9 597.0 199.2C596.9 195.4 596.6 189.3 597.2 187.1Z" fill="#2a2a2a" stroke="#000" stroke-width="0.9" stroke-linejoin="round"/>
<path d="M598.0 192.3C598.5 190.7 599.8 191.0 601.1 193.1C602.4 195.3 604.9 202.0 605.8 205.2C606.7 208.4 607.1 210.6 606.6 212.1C606.2 213.5 604.3 214.1 603.2 213.8C602.0 213.5 600.6 212.2 599.8 210.4C598.9 208.5 598.7 205.6 598.4 202.6C598.1 199.6 597.6 193.9 598.0 192.3Z" fill="#111" stroke="#000" stroke-width="0.9" stroke-linejoin="round"/>
<path d="M606.6 237.0C607.1 234.9 610.1 233.5 611.8 234.5C613.5 235.5 615.3 240.5 617.0 243.1C618.6 245.6 621.4 247.9 621.8 249.9C622.2 252.0 620.9 254.5 619.5 255.1C618.2 255.7 615.2 254.7 613.5 253.4C611.8 252.1 610.4 250.1 609.2 247.4C608.1 244.6 606.2 239.2 606.6 237.0Z" fill="#6a6a6a" stroke="#000" stroke-width="0.9" stroke-linejoin="round"/>
<path d="M610.9 245.6C611.4 244.5 613.8 243.9 615.2 244.8C616.7 245.6 619.3 249.3 619.5 250.8C619.8 252.3 618.1 253.8 617.0 253.9C615.8 254.1 613.7 253.0 612.7 251.7C611.7 250.3 610.5 246.8 610.9 245.6Z" fill="#333" stroke="#000" stroke-width="0.9" stroke-linejoin="round"/>
</g>
<rect x="465.8" y="34.6" width="277.59999999999997" height="31.9" fill="none" stroke="#000" stroke-width="1.3"/>
<rect x="465.8" y="66.5" width="277.59999999999997" height="288.9" fill="none" stroke="#000" stroke-width="1.3"/>
<line x1="467.5" y1="34.6" x2="467.5" y2="50.8" stroke="#000" stroke-width="1.3"/>
<text x="467.8" y="31.0" font-family='"Liberation Sans", sans-serif' font-size="8.2" text-anchor="end" font-weight="normal" textLength="12.2" lengthAdjust="spacingAndGlyphs" stroke="#000" stroke-width="0.35">0.0</text>
<line x1="582.05" y1="34.6" x2="582.05" y2="50.8" stroke="#000" stroke-width="1.3"/>
<text x="582.3499999999999" y="31.0" font-family='"Liberation Sans", sans-serif' font-size="8.2" text-anchor="end" font-weight="normal" textLength="12.2" lengthAdjust="spacingAndGlyphs" stroke="#000" stroke-width="0.35">0.5</text>
<line x1="696.6" y1="34.6" x2="696.6" y2="50.8" stroke="#000" stroke-width="1.3"/>
<text x="696.9" y="31.0" font-family='"Liberation Sans", sans-serif' font-size="8.2" text-anchor="end" font-weight="normal" textLength="12.2" lengthAdjust="spacingAndGlyphs" stroke="#000" stroke-width="0.35">1.0</text>
<line x1="467.5" y1="66.5" x2="467.5" y2="73.5" stroke="#000" stroke-width="1.3"/>
<line x1="467.5" y1="355.4" x2="467.5" y2="348.4" stroke="#000" stroke-width="1.3"/>
<line x1="513.35" y1="66.5" x2="513.35" y2="73.5" stroke="#000" stroke-width="1.3"/>
<line x1="513.35" y1="355.4" x2="513.35" y2="348.4" stroke="#000" stroke-width="1.3"/>
<line x1="559.2" y1="66.5" x2="559.2" y2="73.5" stroke="#000" stroke-width="1.3"/>
<line x1="559.2" y1="355.4" x2="559.2" y2="348.4" stroke="#000" stroke-width="1.3"/>
<line x1="605.05" y1="66.5" x2="605.05" y2="73.5" stroke="#000" stroke-width="1.3"/>
<line x1="605.05" y1="355.4" x2="605.05" y2="348.4" stroke="#000" stroke-width="1.3"/>
<line x1="650.9" y1="66.5" x2="650.9" y2="73.5" stroke="#000" stroke-width="1.3"/>
<line x1="650.9" y1="355.4" x2="650.9" y2="348.4" stroke="#000" stroke-width="1.3"/>
<line x1="696.75" y1="66.5" x2="696.75" y2="73.5" stroke="#000" stroke-width="1.3"/>
<line x1="696.75" y1="355.4" x2="696.75" y2="348.4" stroke="#000" stroke-width="1.3"/>
<line x1="742.6" y1="66.5" x2="742.6" y2="73.5" stroke="#000" stroke-width="1.3"/>
<line x1="742.6" y1="355.4" x2="742.6" y2="348.4" stroke="#000" stroke-width="1.3"/>
<text x="460.4" y="366.0" font-family='"Liberation Sans", sans-serif' font-size="8.2" text-anchor="start" font-weight="normal" textLength="9.6" lengthAdjust="spacingAndGlyphs" stroke="#000" stroke-width="0.35">30</text>
<text x="505.8" y="366.0" font-family='"Liberation Sans", sans-serif' font-size="8.2" text-anchor="start" font-weight="normal" textLength="10.0" lengthAdjust="spacingAndGlyphs" stroke="#000" stroke-width="0.35">20</text>
<text x="552.0" y="366.0" font-family='"Liberation Sans", sans-serif' font-size="8.2" text-anchor="start" font-weight="normal" textLength="9.5" lengthAdjust="spacingAndGlyphs" stroke="#000" stroke-width="0.35">10</text>
<text x="602.6" y="366.0" font-family='"Liberation Sans", sans-serif' font-size="8.2" text-anchor="start" font-weight="normal" textLength="4.3" lengthAdjust="spacingAndGlyphs" stroke="#000" stroke-width="0.35">0</text>
<text x="639.2" y="366.0" font-family='"Liberation Sans", sans-serif' font-size="8.2" text-anchor="start" font-weight="normal" textLength="12.5" lengthAdjust="spacingAndGlyphs" stroke="#000" stroke-width="0.35">-10</text>
<text x="685.2" y="366.0" font-family='"Liberation Sans", sans-serif' font-size="8.2" text-anchor="start" font-weight="normal" textLength="12.5" lengthAdjust="spacingAndGlyphs" stroke="#000" stroke-width="0.35">-20</text>
<text x="731" y="366.0" font-family='"Liberation Sans", sans-serif' font-size="8.2" text-anchor="start" font-weight="normal" textLength="12.5" lengthAdjust="spacingAndGlyphs" stroke="#000" stroke-width="0.35">-30</text>
<line x1="465.8" y1="340.7" x2="473.8" y2="340.7" stroke="#000" stroke-width="1.3"/>
<line x1="743.4" y1="340.7" x2="736.4" y2="340.7" stroke="#000" stroke-width="1.3"/>
<text x="462.0" y="343.59999999999997" font-family='"Liberation Sans", sans-serif' font-size="8.2" text-anchor="end" font-weight="normal" textLength="18.0" lengthAdjust="spacingAndGlyphs" stroke="#000" stroke-width="0.35">-250</text>
<line x1="465.8" y1="314.88" x2="473.8" y2="314.88" stroke="#000" stroke-width="1.3"/>
<line x1="743.4" y1="314.88" x2="736.4" y2="314.88" stroke="#000" stroke-width="1.3"/>
<text x="462.0" y="317.78" font-family='"Liberation Sans", sans-serif' font-size="8.2" text-anchor="end" font-weight="normal" textLength="18.0" lengthAdjust="spacingAndGlyphs" stroke="#000" stroke-width="0.35">-200</text>
<line x1="465.8" y1="289.06" x2="473.8" y2="289.06" stroke="#000" stroke-width="1.3"/>
<line x1="743.4" y1="289.06" x2="736.4" y2="289.06" stroke="#000" stroke-width="1.3"/>
<text x="462.0" y="291.96" font-family='"Liberation Sans", sans-serif' font-size="8.2" text-anchor="end" font-weight="normal" textLength="18.0" lengthAdjust="spacingAndGlyphs" stroke="#000" stroke-width="0.35">-150</text>
<line x1="465.8" y1="263.24" x2="473.8" y2="263.24" stroke="#000" stroke-width="1.3"/>
<line x1="743.4" y1="263.24" x2="736.4" y2="263.24" stroke="#000" stroke-width="1.3"/>
<text x="462.0" y="266.14" font-family='"Liberation Sans", sans-serif' font-size="8.2" text-anchor="end" font-weight="normal" textLength="18.0" lengthAdjust="spacingAndGlyphs" stroke="#000" stroke-width="0.35">-100</text>
<line x1="465.8" y1="237.42" x2="473.8" y2="237.42" stroke="#000" stroke-width="1.3"/>
<line x1="743.4" y1="237.42" x2="736.4" y2="237.42" stroke="#000" stroke-width="1.3"/>
<text x="462.0" y="240.32" font-family='"Liberation Sans", sans-serif' font-size="8.2" text-anchor="end" font-weight="normal" textLength="13.1" lengthAdjust="spacingAndGlyphs" stroke="#000" stroke-width="0.35">-50</text>
<line x1="465.8" y1="211.6" x2="473.8" y2="211.6" stroke="#000" stroke-width="1.3"/>
<line x1="743.4" y1="211.6" x2="736.4" y2="211.6" stroke="#000" stroke-width="1.3"/>
<text x="462.0" y="214.5" font-family='"Liberation Sans", sans-serif' font-size="8.2" text-anchor="end" font-weight="normal" textLength="4.9" lengthAdjust="spacingAndGlyphs" stroke="#000" stroke-width="0.35">0</text>
<line x1="465.8" y1="185.78" x2="473.8" y2="185.78" stroke="#000" stroke-width="1.3"/>
<line x1="743.4" y1="185.78" x2="736.4" y2="185.78" stroke="#000" stroke-width="1.3"/>
<text x="462.0" y="188.68" font-family='"Liberation Sans", sans-serif' font-size="8.2" text-anchor="end" font-weight="normal" textLength="9.8" lengthAdjust="spacingAndGlyphs" stroke="#000" stroke-width="0.35">50</text>
<line x1="465.8" y1="159.95999999999998" x2="473.8" y2="159.95999999999998" stroke="#000" stroke-width="1.3"/>
<line x1="743.4" y1="159.95999999999998" x2="736.4" y2="159.95999999999998" stroke="#000" stroke-width="1.3"/>
<text x="462.0" y="162.85999999999999" font-family='"Liberation Sans", sans-serif' font-size="8.2" text-anchor="end" font-weight="normal" textLength="14.7" lengthAdjust="spacingAndGlyphs" stroke="#000" stroke-width="0.35">100</text>
<line x1="465.8" y1="134.14" x2="473.8" y2="134.14" stroke="#000" stroke-width="1.3"/>
<line x1="743.4" y1="134.14" x2="736.4" y2="134.14" stroke="#000" stroke-width="1.3"/>
<text x="462.0" y="137.04" font-family='"Liberation Sans", sans-serif' font-size="8.2" text-anchor="end" font-weight="normal" textLength="14.7" lengthAdjust="spacingAndGlyphs" stroke="#000" stroke-width="0.35">150</text>
<line x1="465.8" y1="108.32" x2="473.8" y2="108.32" stroke="#000" stroke-width="1.3"/>
<line x1="743.4" y1="108.32" x2="736.4" y2="108.32" stroke="#000" stroke-width="1.3"/>
<text x="462.0" y="111.22" font-family='"Liberation Sans", sans-serif' font-size="8.2" text-anchor="end" font-weight="normal" textLength="14.7" lengthAdjust="spacingAndGlyphs" stroke="#000" stroke-width="0.35">200</text>
<line x1="465.8" y1="82.5" x2="473.8" y2="82.5" stroke="#000" stroke-width="1.3"/>
<line x1="743.4" y1="82.5" x2="736.4" y2="82.5" stroke="#000" stroke-width="1.3"/>
<text x="462.0" y="85.4" font-family='"Liberation Sans", sans-serif' font-size="8.2" text-anchor="end" font-weight="normal" textLength="14.7" lengthAdjust="spacingAndGlyphs" stroke="#000" stroke-width="0.35">250</text>
<text x="609.5" y="375.2" font-family='"Liberation Sans", sans-serif' font-size="9" text-anchor="middle" font-weight="normal" textLength="40" lengthAdjust="spacingAndGlyphs" stroke="#000" stroke-width="0.45">ARC SEC</text>
<text transform="translate(433.3 206.4) rotate(-90)" font-family='"Liberation Sans", sans-serif' font-size="9" stroke="#000" stroke-width="0.45" text-anchor="middle" textLength="75.5" lengthAdjust="spacingAndGlyphs">Kilo METERS/SEC</text>
<rect x="66.5" y="430.5" width="287.5" height="16.600000000000023" fill="url(#cbar)"/>
<g clip-path="url(#cbl)">
<path d="M73.5 448.5L67.3 454.2L73.5 454.2" fill="none" stroke="#000" stroke-width="1.1" stroke-linejoin="round"/>
<ellipse cx="81.1" cy="448.5" rx="2.1" ry="1.5" fill="#eee" stroke="#000" stroke-width="1.25"/>
<ellipse cx="103.8" cy="449.6" rx="2.3" ry="1.7" fill="#ddd" stroke="#000" stroke-width="1.25"/>
<path d="M133.4 447.9L135.3 450.4L138.3 448.9" fill="none" stroke="#000" stroke-width="1.1" stroke-linejoin="round"/>
<path d="M154.2 451.2L159.1 453.8L155.0 455.7Z" fill="#ddd" stroke="#000" stroke-width="1.25" stroke-linejoin="round"/>
<rect x="178.8" y="449.6" width="1.2" height="1.5" fill="#000"/>
<ellipse cx="196.9" cy="454.6" rx="1.5" ry="2.3" fill="#ccc" stroke="#000" stroke-width="1.5" transform="rotate(-15 196.9 454.6)"/>
<ellipse cx="80.1" cy="464.0" rx="1.7" ry="1.7" fill="#fff" stroke="#000" stroke-width="1.25"/>
<path d="M76.3 469.3C77.5 469.5 78.6 473.6 78.6 475.4C78.6 477.2 77.4 479.6 76.3 480.1C75.3 480.6 72.9 479.1 72.2 478.2C71.4 477.2 71.1 475.9 71.8 474.4C72.5 472.9 75.2 469.1 76.3 469.3Z" fill="#ccc" stroke="#000" stroke-width="1.25" stroke-linejoin="round"/>
<ellipse cx="74.1" cy="476.9" rx="1.5" ry="1.7" fill="#bbb" stroke="#000" stroke-width="1.25"/>
<ellipse cx="79.7" cy="479.5" rx="1.7" ry="2.6" fill="#fff" stroke="#000" stroke-width="1.25" transform="rotate(-10 79.7 479.5)"/>
<path d="M89.2 473.8C90.1 472.9 92.3 473.5 93.0 474.4C93.7 475.3 93.9 477.6 93.4 479.1C92.9 480.7 91.0 483.7 90.0 483.9C88.9 484.0 87.4 481.8 87.3 480.1C87.2 478.4 88.3 474.8 89.2 473.8Z" fill="#ddd" stroke="#000" stroke-width="1.25" stroke-linejoin="round"/>
<ellipse cx="203.6" cy="476.9" rx="2.3" ry="1.9" fill="#eee" stroke="#000" stroke-width="1.4"/>
<ellipse cx="68.8" cy="487.8" rx="1.7" ry="1.5" fill="#fff" stroke="#000" stroke-width="1.25"/>
<ellipse cx="72.9" cy="491.8" rx="1.5" ry="1.5" fill="#fff" stroke="#000" stroke-width="1.25"/>
<path d="M67.3 493.3C68.0 492.2 69.6 493.8 70.7 495.2C71.7 496.6 73.3 499.3 73.5 501.8C73.8 504.3 73.2 508.8 72.2 510.3C71.1 511.9 68.2 512.7 67.3 511.3C66.3 509.9 66.5 504.8 66.5 501.8C66.5 498.8 66.6 494.4 67.3 493.3Z" fill="#c8c8c8" stroke="#000" stroke-width="1.25" stroke-linejoin="round"/>
<path d="M68.8 495.2L72.6 501.8L70.7 500.3Z" fill="#222" stroke="#000" stroke-width="1.2" stroke-linejoin="round"/>
<ellipse cx="77.3" cy="505.6" rx="2.3" ry="3.4" fill="#999" stroke="#000" stroke-width="1.8"/>
<rect x="86.0" y="495.6" width="2.6" height="1.9" fill="#000"/>
<rect x="91.3" y="505.8" width="1.5" height="3.4" fill="#000"/>
<ellipse cx="91.8" cy="515.4" rx="3.0" ry="2.3" fill="#eee" stroke="#000" stroke-width="1.25"/>
<ellipse cx="168.0" cy="519.4" rx="1.9" ry="2.4" fill="#ddd" stroke="#000" stroke-width="1.4"/>
<ellipse cx="71.0" cy="529.8" rx="1.5" ry="1.5" fill="#fff" stroke="#000" stroke-width="1.25"/>
<ellipse cx="70.7" cy="533.0" rx="1.1" ry="1.3" fill="#fff" stroke="#000" stroke-width="1.25"/>
<ellipse cx="78.2" cy="539.6" rx="2.3" ry="1.9" fill="#eee" stroke="#000" stroke-width="1.25"/>
<path d="M87.3 543.4L89.6 541.1L91.5 543.4Z" fill="#eee" stroke="#000" stroke-width="1.25" stroke-linejoin="round"/>
<rect x="70.9" y="545.6" width="4.2" height="1.2" fill="#000"/>
<ellipse cx="162.0" cy="532.4" rx="3.2" ry="4.0" fill="#ccc" stroke="#000" stroke-width="1.25" transform="rotate(30 162.0 532.4)"/>
<ellipse cx="169.5" cy="534.3" rx="2.3" ry="2.1" fill="#eee" stroke="#000" stroke-width="1.25"/>
<ellipse cx="150.1" cy="542.5" rx="1.7" ry="2.1" fill="#eee" stroke="#000" stroke-width="1.25"/>
<rect x="151.8" y="539.2" width="1.5" height="1.5" fill="#000"/>
<path d="M71.6 557.0C72.6 556.5 75.2 557.6 76.0 558.5C76.8 559.4 76.9 561.3 76.3 562.3C75.8 563.3 73.6 564.6 72.6 564.6C71.6 564.5 70.5 563.2 70.3 561.9C70.1 560.7 70.7 557.6 71.6 557.0Z" fill="#eee" stroke="#000" stroke-width="1.25" stroke-linejoin="round"/>
<path d="M83.0 574.0C84.2 573.2 87.5 573.1 89.6 572.1C91.6 571.1 93.5 569.5 95.2 568.0C97.0 566.5 98.6 564.0 100.0 563.3C101.4 562.6 103.1 563.0 103.8 563.8C104.4 564.6 104.7 566.5 103.8 568.0C102.8 569.5 100.3 571.4 98.1 572.7C95.9 574.0 92.7 574.6 90.5 575.5C88.3 576.5 86.2 578.1 84.8 578.4C83.5 578.6 82.7 577.8 82.4 577.1C82.1 576.3 81.8 574.9 83.0 574.0Z" fill="#ddd" stroke="#000" stroke-width="1.25" stroke-linejoin="round"/>
<ellipse cx="96.2" cy="571.4" rx="2.3" ry="2.3" fill="#aaa" stroke="#000" stroke-width="1.25"/>
<rect x="165.4" y="575.5" width="1.5" height="3.0" fill="#000"/>
<ellipse cx="100.0" cy="589.2" rx="2.4" ry="1.1" fill="#eee" stroke="#000" stroke-width="1.25"/>
<ellipse cx="170.3" cy="549.5" rx="3.3" ry="2.3" fill="#eee" stroke="#000" stroke-width="1.25"/>
<rect x="227.4" y="452.1" width="2.3" height="1.2" fill="#000"/>
<ellipse cx="226.6" cy="461.0" rx="1.1" ry="1.3" fill="#fff" stroke="#000" stroke-width="1.25"/>
<path d="M258.8 451.2C259.5 450.3 262.2 450.0 263.9 450.4C265.5 450.8 267.2 453.0 268.6 453.6C270.0 454.2 271.6 453.5 272.0 454.2C272.4 454.9 271.9 457.4 270.9 458.0C269.8 458.5 267.7 457.8 265.8 457.4C263.9 457.0 260.7 456.5 259.5 455.5C258.4 454.5 258.0 452.0 258.8 451.2Z" fill="#ddd" stroke="#000" stroke-width="1.25" stroke-linejoin="round"/>
<ellipse cx="336.3" cy="451.9" rx="1.1" ry="1.5" fill="#fff" stroke="#000" stroke-width="1.25"/>
<line x1="335.14177693761815" y1="448.51228733459357" x2="335.14177693761815" y2="452.6710775047259" stroke="#000" stroke-width="1.1"/>
<ellipse cx="318.3" cy="475.7" rx="3.0" ry="3.0" fill="#ccc" stroke="#000" stroke-width="2.2"/>
<rect x="319.5" y="476.1" width="2.3" height="2.3" fill="#000"/>
<path d="M329.5 480.1C329.9 478.9 332.7 480.1 333.8 480.6C335.0 481.2 335.2 483.6 336.3 483.3C337.4 483.0 339.0 479.2 340.4 478.8C341.8 478.3 344.3 479.7 344.6 480.6C344.9 481.6 343.5 483.5 342.3 484.4C341.2 485.4 338.8 485.6 337.6 486.3C336.4 487.1 336.2 488.7 335.1 489.0C334.0 489.2 331.9 489.1 331.0 487.6C330.0 486.2 329.0 481.2 329.5 480.1Z" fill="#ddd" stroke="#000" stroke-width="1.25" stroke-linejoin="round"/>
<rect x="255.7" y="500.8" width="1.2" height="1.2" fill="#000"/>
<ellipse cx="278.4" cy="504.7" rx="2.4" ry="2.6" fill="#eee" stroke="#000" stroke-width="1.25"/>
<ellipse cx="278.4" cy="518.8" rx="1.1" ry="2.6" fill="#ccc" stroke="#000" stroke-width="1.25"/>
<ellipse cx="299.8" cy="518.3" rx="3.8" ry="4.2" fill="#ccc" stroke="#000" stroke-width="1.25"/>
<ellipse cx="299.8" cy="517.3" rx="2.3" ry="2.5" fill="#bbb" stroke="#000" stroke-width="1.25"/>
<ellipse cx="293.7" cy="523.6" rx="1.7" ry="1.7" fill="#eee" stroke="#000" stroke-width="1.25"/>
<ellipse cx="332.9" cy="503.7" rx="3.6" ry="3.6" fill="#ddd" stroke="#000" stroke-width="1.25"/>
<ellipse cx="338.2" cy="511.3" rx="2.8" ry="2.1" fill="#ccc" stroke="#000" stroke-width="1.6" transform="rotate(20 338.2 511.3)"/>
<ellipse cx="328.7" cy="518.3" rx="2.4" ry="1.7" fill="#eee" stroke="#000" stroke-width="1.25" transform="rotate(-30 328.7 518.3)"/>
<ellipse cx="335.3" cy="518.5" rx="2.1" ry="1.9" fill="#eee" stroke="#000" stroke-width="1.25" transform="rotate(-30 335.3 518.5)"/>
<path d="M317.8 520.7C318.4 520.0 320.9 520.3 321.9 521.1C322.9 521.9 323.6 523.9 323.8 525.4C324.0 527.0 323.7 529.5 323.0 530.2C322.4 530.9 320.5 530.6 319.6 529.8C318.8 529.0 318.4 527.0 318.1 525.4C317.8 523.9 317.1 521.4 317.8 520.7Z" fill="#ddd" stroke="#000" stroke-width="1.25" stroke-linejoin="round"/>
<rect x="328.1" y="534.3" width="1.9" height="1.9" fill="#000"/>
<path d="M326.4 545.3L330.6 542.5L330.6 545.7Z" fill="#eee" stroke="#000" stroke-width="1.25" stroke-linejoin="round"/>
<ellipse cx="267.1" cy="544.7" rx="2.8" ry="2.6" fill="#eee" stroke="#000" stroke-width="1.25"/>
<rect x="320.4" y="549.8" width="1.5" height="1.2" fill="#000"/>
<ellipse cx="329.1" cy="556.1" rx="4.5" ry="2.6" fill="#ddd" stroke="#000" stroke-width="1.25" transform="rotate(5 329.1 556.1)"/>
<ellipse cx="342.9" cy="561.0" rx="1.9" ry="1.9" fill="#ccc" stroke="#000" stroke-width="1.6"/>
<ellipse cx="353.7" cy="548.5" rx="1.9" ry="2.4" fill="#eee" stroke="#000" stroke-width="1.25"/>
<path d="M280.3 562.7L284.1 559.5L284.1 565.7Z" fill="#eee" stroke="#000" stroke-width="1.25" stroke-linejoin="round"/>
<rect x="230.8" y="573.1" width="1.9" height="1.9" fill="#000"/>
<rect x="240.1" y="580.1" width="3.4" height="2.3" fill="#000"/>
<rect x="249.1" y="577.8" width="1.2" height="1.2" fill="#000"/>
<ellipse cx="305.5" cy="587.8" rx="3.0" ry="4.5" fill="#ddd" stroke="#000" stroke-width="1.25" transform="rotate(35 305.5 587.8)"/>
<ellipse cx="73.5" cy="599.9" rx="2.8" ry="2.6" fill="#eee" stroke="#000" stroke-width="1.25"/>
<path d="M66.9 602.4L68.8 604.3L67.3 606.7" fill="none" stroke="#000" stroke-width="1.1" stroke-linejoin="round"/>
<path d="M66.9 616.2L68.4 619.4L66.9 622.6" fill="none" stroke="#000" stroke-width="1.1" stroke-linejoin="round"/>
<ellipse cx="115.1" cy="606.2" rx="2.4" ry="3.0" fill="#eee" stroke="#000" stroke-width="1.25" transform="rotate(10 115.1 606.2)"/>
<rect x="107.3" y="605.0" width="2.3" height="1.5" fill="#000"/>
<rect x="97.3" y="618.1" width="2.6" height="1.5" fill="#000"/>
<ellipse cx="101.3" cy="627.9" rx="2.4" ry="1.7" fill="#eee" stroke="#000" stroke-width="1.25" transform="rotate(-10 101.3 627.9)"/>
<path d="M70.3 637.4C70.9 636.6 73.7 636.7 74.5 637.4C75.2 638.1 75.4 640.7 74.8 641.5C74.3 642.3 71.8 642.8 71.0 642.1C70.3 641.4 69.7 638.2 70.3 637.4Z" fill="#eee" stroke="#000" stroke-width="1.25" stroke-linejoin="round"/>
<rect x="164.4" y="592.2" width="2.3" height="2.6" fill="#000"/>
<path d="M179.4 622.2L181.3 617.5L182.8 622.2Z" fill="#eee" stroke="#000" stroke-width="1.25" stroke-linejoin="round"/>
<ellipse cx="203.0" cy="627.9" rx="1.5" ry="1.7" fill="#fff" stroke="#000" stroke-width="1.25"/>
<line x1="201.86200378071834" y1="626.9716446124763" x2="201.86200378071834" y2="632.0756143667297" stroke="#000" stroke-width="1.1"/>
<ellipse cx="209.6" cy="619.4" rx="0.9" ry="1.9" fill="#eee" stroke="#000" stroke-width="1.25"/>
<rect x="165.9" y="650.6" width="1.2" height="3.8" fill="#000"/>
<rect x="165.2" y="651.9" width="2.6" height="1.2" fill="#000"/>
<rect x="175.6" y="660.2" width="1.2" height="1.5" fill="#000"/>
<path d="M198.3 659.1C199.2 657.8 202.3 658.5 203.0 659.1C203.7 659.7 202.9 661.6 202.6 662.9C202.4 664.1 201.4 665.4 201.5 666.7C201.5 667.9 202.8 669.3 203.0 670.4C203.2 671.6 203.4 673.1 202.6 673.7C201.8 674.2 199.2 674.8 198.3 673.7C197.4 672.5 197.3 669.1 197.3 666.7C197.3 664.2 197.3 660.4 198.3 659.1Z" fill="#ddd" stroke="#000" stroke-width="1.25" stroke-linejoin="round"/>
<ellipse cx="112.8" cy="669.1" rx="1.9" ry="1.3" fill="#eee" stroke="#000" stroke-width="1.25"/>
<path d="M140.6 674.2C141.4 673.1 144.8 672.2 146.3 672.3C147.7 672.5 149.0 673.9 149.3 675.2C149.6 676.4 149.0 679.0 148.2 679.9C147.4 680.8 145.5 681.0 144.4 680.8C143.3 680.7 142.2 680.1 141.6 679.0C140.9 677.9 139.8 675.3 140.6 674.2Z" fill="#ddd" stroke="#000" stroke-width="1.25" stroke-linejoin="round"/>
<ellipse cx="144.4" cy="684.2" rx="2.1" ry="2.1" fill="#ddd" stroke="#000" stroke-width="1.25"/>
<path d="M89.6 694.1C89.9 692.8 91.8 689.7 93.4 688.4C94.9 687.1 97.8 686.4 99.0 686.5C100.2 686.7 100.7 687.9 100.5 689.4C100.4 690.8 99.6 693.9 98.1 695.0C96.6 696.2 92.9 696.5 91.5 696.3C90.0 696.2 89.3 695.4 89.6 694.1Z" fill="#ddd" stroke="#000" stroke-width="1.25" stroke-linejoin="round"/>
<path d="M93.4 691.2L99.0 688.8L98.6 691.8" fill="none" stroke="#000" stroke-width="1" stroke-linejoin="round"/>
<path d="M106.6 688.0C107.4 687.4 110.5 686.5 111.3 687.5C112.2 688.5 112.2 693.0 111.7 694.1C111.2 695.2 109.0 694.6 108.1 694.1C107.2 693.6 106.5 692.3 106.2 691.2C106.0 690.2 105.7 688.7 106.6 688.0Z" fill="#ddd" stroke="#000" stroke-width="1.25" stroke-linejoin="round"/>
<ellipse cx="125.1" cy="696.0" rx="3.0" ry="1.3" fill="#eee" stroke="#000" stroke-width="1.25" transform="rotate(35 125.1 696.0)"/>
<path d="M72.2 695.0C73.0 694.4 76.0 694.2 76.7 695.0C77.5 695.8 77.3 698.6 76.7 699.8C76.2 700.9 74.3 701.8 73.5 701.6C72.7 701.5 72.0 699.9 71.8 698.8C71.6 697.7 71.4 695.7 72.2 695.0Z" fill="#ddd" stroke="#000" stroke-width="1.25" stroke-linejoin="round"/>
<ellipse cx="110.0" cy="703.2" rx="4.5" ry="4.7" fill="#ddd" stroke="#000" stroke-width="1.25"/>
<ellipse cx="110.0" cy="703.5" rx="2.3" ry="2.6" fill="#eee" stroke="#000" stroke-width="1.25" transform="rotate(20 110.0 703.5)"/>
<path d="M170.9 693.1C171.8 691.8 175.0 691.1 175.6 692.2C176.2 693.3 175.6 698.4 174.6 699.8C173.7 701.1 170.5 701.2 169.9 700.1C169.3 699.0 169.9 694.5 170.9 693.1Z" fill="#eee" stroke="#000" stroke-width="1.25" stroke-linejoin="round"/>
<ellipse cx="184.7" cy="690.9" rx="2.5" ry="2.5" fill="#eee" stroke="#000" stroke-width="1.25"/>
<ellipse cx="208.7" cy="703.5" rx="2.4" ry="3.8" fill="#ddd" stroke="#000" stroke-width="1.25"/>
<ellipse cx="209.0" cy="703.9" rx="0.9" ry="1.5" fill="#fff" stroke="#000" stroke-width="1.25"/>
<path d="M192.6 713.9L197.3 714.5L200.2 714.5L200.2 717.1L197.3 716.8L193.2 715.8Z" fill="#eee" stroke="#000" stroke-width="1.25" stroke-linejoin="round"/>
<rect x="165.2" y="721.1" width="2.6" height="1.9" fill="#000"/>
<path d="M96.8 728.1L96.8 734.7L102.8 734.7L100.0 731.5Z" fill="#eee" stroke="#000" stroke-width="1.25" stroke-linejoin="round"/>
<ellipse cx="113.8" cy="728.5" rx="1.3" ry="1.3" fill="#fff" stroke="#000" stroke-width="1.25"/>
<path d="M117.9 733.8L119.8 730.9L127.4 728.5L130.2 725.8L132.1 727.2L132.1 734.7L117.9 734.7Z" fill="#ddd" stroke="#000" stroke-width="1.25" stroke-linejoin="round"/>
<path d="M118.9 732.8L123.6 731.5L122.7 734.2" fill="none" stroke="#000" stroke-width="1" stroke-linejoin="round"/>
<path d="M189.8 734.7L193.5 732.3L199.6 732.8L199.6 735.1Z" fill="#ddd" stroke="#000" stroke-width="1.25" stroke-linejoin="round"/>
<path d="M66.9 705.8L68.8 707.3L66.9 708.8" fill="none" stroke="#000" stroke-width="1.1" stroke-linejoin="round"/>
<path d="M66.9 720.9L68.8 722.4L66.9 723.9" fill="none" stroke="#000" stroke-width="1.1" stroke-linejoin="round"/>
<rect x="259.0" y="598.2" width="2.6" height="1.5" fill="#000"/>
<ellipse cx="295.4" cy="595.2" rx="2.1" ry="1.9" fill="#eee" stroke="#000" stroke-width="1.25"/>
<ellipse cx="322.5" cy="601.8" rx="2.1" ry="1.5" fill="#eee" stroke="#000" stroke-width="1.25" transform="rotate(20 322.5 601.8)"/>
<ellipse cx="318.1" cy="605.6" rx="1.9" ry="1.9" fill="#eee" stroke="#000" stroke-width="1.25"/>
<ellipse cx="336.3" cy="602.8" rx="2.6" ry="3.2" fill="#ccc" stroke="#000" stroke-width="1.8"/>
<path d="M350.8 611.5L354.0 610.0L354.0 613.2Z" fill="#eee" stroke="#000" stroke-width="1.25" stroke-linejoin="round"/>
<path d="M310.6 622.2C310.7 621.4 312.3 620.0 313.6 618.8C314.9 617.6 317.1 615.3 318.1 615.1C319.1 614.8 320.0 616.6 319.6 617.5C319.3 618.5 317.0 619.6 315.9 620.7C314.8 621.8 313.9 623.9 313.0 624.1C312.1 624.4 310.5 623.1 310.6 622.2Z" fill="#ddd" stroke="#000" stroke-width="1.25" stroke-linejoin="round"/>
<path d="M296.2 620.4C296.6 619.7 299.0 619.5 299.6 620.4C300.2 621.2 300.0 625.0 299.6 625.6C299.2 626.3 297.5 625.4 297.0 624.5C296.4 623.6 295.8 621.0 296.2 620.4Z" fill="#eee" stroke="#000" stroke-width="1.25" stroke-linejoin="round"/>
<path d="M236.5 631.7C236.9 630.4 238.5 627.9 239.9 627.0C241.2 626.1 243.6 625.8 244.4 626.4C245.2 627.0 244.9 629.5 244.4 630.8C243.9 632.0 242.4 633.3 241.2 634.0C240.0 634.6 238.2 634.9 237.4 634.5C236.6 634.2 236.1 633.0 236.5 631.7Z" fill="#ddd" stroke="#000" stroke-width="1.25" stroke-linejoin="round"/>
<ellipse cx="311.1" cy="637.4" rx="2.6" ry="2.1" fill="#eee" stroke="#000" stroke-width="1.25"/>
<rect x="337.2" y="623.8" width="3.4" height="3.8" fill="#eee" stroke="#000" stroke-width="1.1"/>
<path d="M337.6 627.9C338.4 627.1 340.1 626.7 340.8 627.9C341.5 629.2 341.0 633.7 341.9 635.5C342.9 637.2 345.9 637.3 346.5 638.3C347.0 639.3 346.5 640.8 345.2 641.5C343.8 642.3 340.1 643.0 338.5 642.7C337.0 642.3 336.1 640.9 335.7 639.3C335.3 637.6 336.0 634.5 336.3 632.6C336.6 630.8 336.8 628.7 337.6 627.9Z" fill="#ddd" stroke="#000" stroke-width="1.25" stroke-linejoin="round"/>
<path d="M349.9 624.1C350.5 623.5 353.8 623.1 354.6 623.8C355.4 624.4 355.2 627.3 354.6 627.9C354.0 628.5 351.6 628.2 350.8 627.5C350.0 626.9 349.3 624.8 349.9 624.1Z" fill="#ddd" stroke="#000" stroke-width="1.25" stroke-linejoin="round"/>
<rect x="254.4" y="641.9" width="1.2" height="1.2" fill="#000"/>
<path d="M228.9 650.6C229.0 649.2 230.1 648.5 231.2 648.3C232.3 648.2 234.3 648.8 235.5 649.7C236.7 650.5 238.5 652.2 238.4 653.4C238.2 654.7 235.9 656.7 234.6 657.2C233.3 657.8 231.4 657.8 230.4 656.7C229.5 655.5 228.8 652.0 228.9 650.6Z" fill="#ddd" stroke="#000" stroke-width="1.25" stroke-linejoin="round"/>
<line x1="230.41587901701322" y1="652.8695652173913" x2="236.46502835538752" y2="653.2476370510396" stroke="#000" stroke-width="1"/>
<rect x="261.8" y="656.1" width="1.9" height="3.4" fill="#000"/>
<rect x="259.9" y="666.6" width="3.0" height="1.2" fill="#000"/>
<rect x="298.5" y="663.1" width="2.6" height="1.5" fill="#000"/>
<path d="M340.8 655.9C341.2 654.9 343.9 654.7 344.6 655.5C345.3 656.4 345.3 660.1 345.0 661.0C344.6 661.9 343.0 662.0 342.3 661.2C341.6 660.3 340.4 656.8 340.8 655.9Z" fill="#eee" stroke="#000" stroke-width="1.25" stroke-linejoin="round"/>
<path d="M336.7 667.6C337.4 666.9 339.5 666.3 341.4 666.7C343.3 667.0 346.6 668.6 348.0 669.9C349.4 671.1 349.9 673.2 349.5 674.2C349.1 675.3 347.3 676.3 345.7 676.1C344.2 676.0 341.5 674.1 340.1 673.3C338.6 672.4 337.6 672.0 337.0 671.0C336.5 670.1 335.9 668.3 336.7 667.6Z" fill="#ddd" stroke="#000" stroke-width="1.25" stroke-linejoin="round"/>
<ellipse cx="352.7" cy="667.2" rx="2.4" ry="4.3" fill="#ddd" stroke="#000" stroke-width="1.25"/>
<ellipse cx="217.0" cy="678.4" rx="1.9" ry="2.1" fill="#eee" stroke="#000" stroke-width="1.25"/>
<rect x="245.9" y="688.2" width="2.6" height="2.3" fill="#000"/>
<ellipse cx="255.4" cy="689.4" rx="2.3" ry="2.3" fill="#ccc" stroke="#000" stroke-width="1.4"/>
<path d="M273.3 692.6L275.8 689.9L278.1 692.6Z" fill="#000" stroke="#000" stroke-width="1.25" stroke-linejoin="round"/>
<rect x="298.3" y="686.5" width="2.6" height="2.3" fill="#000"/>
<ellipse cx="330.4" cy="688.4" rx="4.5" ry="4.0" fill="#ccc" stroke="#000" stroke-width="1.3"/>
<ellipse cx="330.4" cy="688.4" rx="2.6" ry="2.1" fill="#ddd" stroke="#000" stroke-width="1.2"/>
<rect x="329.5" y="688.2" width="1.9" height="1.2" fill="#000"/>
<ellipse cx="300.2" cy="697.9" rx="3.0" ry="4.7" fill="#ddd" stroke="#000" stroke-width="1.25" transform="rotate(20 300.2 697.9)"/>
<rect x="322.5" y="697.3" width="2.3" height="3.0" fill="#000"/>
<ellipse cx="211.5" cy="703.0" rx="3.0" ry="3.4" fill="#ddd" stroke="#000" stroke-width="1.25"/>
<rect x="210.8" y="702.8" width="1.5" height="1.5" fill="#000"/>
<ellipse cx="229.8" cy="703.5" rx="3.2" ry="4.0" fill="#ddd" stroke="#000" stroke-width="1.25" transform="rotate(-15 229.8 703.5)"/>
<ellipse cx="238.4" cy="713.6" rx="2.3" ry="3.0" fill="#eee" stroke="#000" stroke-width="1.25" transform="rotate(10 238.4 713.6)"/>
<path d="M331.9 713.0L334.4 713.0L334.0 717.1L336.3 720.5L333.3 723.9L332.5 727.3L329.5 727.3L329.8 724.3L331.0 718.7Z" fill="#ddd" stroke="#000" stroke-width="1.25" stroke-linejoin="round"/>
<path d="M263.5 735.1L263.9 730.9L268.6 730.6L268.6 735.1Z" fill="#ddd" stroke="#000" stroke-width="1.25" stroke-linejoin="round"/>
<rect x="331.9" y="733.2" width="5.7" height="1.2" fill="#000"/>
<path d="M346.5 731.9L347.6 727.7L348.9 727.7L348.9 731.9" fill="none" stroke="#000" stroke-width="1" stroke-linejoin="round"/>
<path d="M179.9 544.2C180.4 543.1 182.5 543.3 183.0 544.7C183.6 546.1 183.8 550.7 183.3 552.5C182.9 554.3 181.4 555.3 180.4 555.6C179.5 556.0 177.9 555.2 177.5 554.6C177.1 554.0 177.7 552.6 178.1 552.0C178.6 551.4 179.9 552.3 180.2 550.9C180.5 549.6 179.4 545.2 179.9 544.2Z" fill="#e4e4e4" stroke="#000" stroke-width="1.2" stroke-linejoin="round"/>
<path d="M183.6 556.2L185.6 556.2L185.6 560.3L183.8 560.3Z" fill="#eee" stroke="#000" stroke-width="1.2" stroke-linejoin="round"/>
<path d="M236.7 544.2C237.5 543.7 241.4 543.1 241.9 543.6C242.5 544.2 240.6 547.0 239.9 547.5C239.1 548.0 237.8 547.0 237.3 546.5C236.7 545.9 236.0 544.6 236.7 544.2Z" fill="#ddd" stroke="#000" stroke-width="1.2" stroke-linejoin="round"/>
<path d="M238.3 565.0C238.6 564.4 240.2 562.7 240.9 562.4C241.6 562.1 242.2 562.5 242.5 563.1C242.7 563.8 243.0 565.8 242.5 566.3C241.9 566.8 240.0 566.3 239.3 566.1C238.6 565.9 238.0 565.6 238.3 565.0Z" fill="#ddd" stroke="#000" stroke-width="1.2" stroke-linejoin="round"/>
<rect x="231.1" y="573.0" width="1.8" height="1.8" fill="#000"/>
<rect x="240.2" y="580.3" width="3.0" height="2.2" fill="#000"/>
<path d="M177.8 600.5C178.1 599.6 180.2 598.6 181.5 598.4C182.7 598.2 185.0 598.5 185.4 599.2C185.9 599.9 185.0 601.9 184.1 602.6C183.2 603.3 180.9 603.7 179.9 603.4C178.9 603.1 177.6 601.3 177.8 600.5Z" fill="#e0e0e0" stroke="#000" stroke-width="1.2" stroke-linejoin="round"/>
<path d="M174.7 608.3C175.2 607.7 178.8 607.0 179.4 607.6C180.0 608.1 178.7 610.8 178.1 611.4C177.6 612.1 176.8 611.9 176.3 611.4C175.7 610.9 174.2 608.9 174.7 608.3Z" fill="#e8e8e8" stroke="#000" stroke-width="1.2" stroke-linejoin="round"/>
<path d="M240.9 596.3C241.5 595.2 243.9 594.4 244.6 595.8C245.2 597.2 244.3 602.8 244.9 604.7C245.4 606.5 247.3 605.5 247.7 606.7C248.1 608.0 248.1 610.8 247.2 611.9C246.2 613.1 243.3 613.5 241.9 613.5C240.6 613.5 239.2 613.1 238.8 611.9C238.4 610.8 239.3 608.3 239.7 606.7C240.0 605.2 240.9 604.3 241.1 602.6C241.3 600.8 240.3 597.4 240.9 596.3Z" fill="#ddd" stroke="#000" stroke-width="1.3" stroke-linejoin="round"/>
<ellipse cx="243.0" cy="609.3" rx="2.5" ry="2.8" fill="#888" stroke="#000" stroke-width="1.3"/>
<ellipse cx="186.7" cy="589.2" rx="1.2" ry="1.1" fill="#fff" stroke="#000" stroke-width="1.2"/>
<path d="M195.0 556.7C196.4 556.0 197.6 558.1 199.2 558.6C200.8 559.0 202.5 559.9 204.4 559.3C206.3 558.7 208.8 555.6 210.7 554.8C212.6 554.0 214.8 554.0 215.9 554.6C216.9 555.2 217.1 556.7 216.9 558.2C216.8 559.8 215.4 562.3 214.8 564.0C214.3 565.6 213.7 566.4 213.8 568.2C213.9 569.9 214.7 572.8 215.4 574.4C216.1 576.0 216.7 576.9 218.0 577.7C219.3 578.6 221.9 578.6 223.2 579.6C224.5 580.6 225.4 582.1 225.8 583.8C226.1 585.5 226.0 588.1 225.3 590.1C224.5 592.0 222.0 593.4 221.1 595.3C220.2 597.2 220.1 599.6 220.1 601.5C220.1 603.4 221.3 605.3 221.1 606.7C220.9 608.1 220.2 609.3 219.0 609.9C217.8 610.4 215.4 609.7 213.8 609.9C212.2 610.1 211.0 610.6 209.6 611.1C208.2 611.6 207.2 612.5 205.5 613.0C203.7 613.5 201.1 613.8 199.2 614.0C197.3 614.3 195.6 614.4 194.0 614.7C192.3 614.9 190.3 616.1 189.3 615.6C188.2 615.1 188.1 613.3 187.7 611.9C187.4 610.6 186.7 609.5 187.2 607.8C187.7 606.0 189.9 603.4 190.9 601.5C191.8 599.6 192.8 598.4 192.9 596.3C193.1 594.2 192.2 591.4 191.9 589.0C191.6 586.6 190.8 584.1 190.9 581.7C190.9 579.3 192.4 576.8 192.4 574.4C192.4 572.0 191.1 569.1 190.9 567.1C190.6 565.1 190.2 564.2 190.9 562.4C191.6 560.7 193.6 557.3 195.0 556.7Z" fill="#d4d4d4" stroke="#000" stroke-width="1.3" stroke-linejoin="round"/>
<path d="M196.1 559.3C197.5 558.4 199.5 560.7 201.3 560.9C203.0 561.0 204.8 561.1 206.5 560.3C208.1 559.6 209.8 557.1 211.2 556.5C212.6 555.8 214.4 555.8 215.0 556.5C215.7 557.1 215.4 558.7 215.0 560.3C214.7 561.9 213.2 564.2 212.8 566.1C212.3 567.9 212.0 569.6 212.2 571.3C212.5 572.9 213.2 574.6 214.3 576.0C215.4 577.4 217.4 578.5 219.0 579.6C220.6 580.8 222.9 581.2 223.7 582.8C224.5 584.3 224.3 587.1 223.7 589.0C223.1 590.9 220.7 592.1 219.8 594.2C219.0 596.3 218.6 599.3 218.5 601.5C218.3 603.8 219.8 606.6 219.0 607.8C218.2 608.9 216.1 607.7 213.8 608.3C211.5 608.9 208.8 610.6 205.5 611.4C202.2 612.2 196.5 612.7 194.0 613.0C191.5 613.3 191.0 613.7 190.3 613.0C189.6 612.3 189.3 610.7 189.8 608.8C190.3 606.9 192.7 604.0 193.5 601.5C194.2 599.1 194.5 596.8 194.5 594.2C194.5 591.6 193.7 588.7 193.5 585.9C193.2 583.1 193.0 580.0 193.1 577.5C193.3 575.1 194.3 573.2 194.2 571.3C194.1 569.4 192.4 568.1 192.7 566.1C193.0 564.1 194.6 560.2 196.1 559.3Z" fill="#b8b8b8" stroke="#000" stroke-width="1.0" stroke-linejoin="round"/>
<path d="M202.3 561.4C203.6 559.6 208.6 557.6 210.7 556.9C212.8 556.2 214.2 556.5 214.8 557.2C215.4 558.0 214.9 559.7 214.3 561.4C213.7 563.1 212.5 566.0 211.2 567.3C209.9 568.7 207.9 569.4 206.5 569.4C205.1 569.4 203.5 568.7 202.8 567.3C202.2 566.0 201.0 563.1 202.3 561.4Z" fill="#c8c8c8" stroke="#000" stroke-width="1.0" stroke-linejoin="round"/>
<path d="M206.0 562.4C206.2 561.5 210.0 559.2 211.2 558.8C212.4 558.3 213.5 558.9 213.3 559.8C213.0 560.8 210.8 564.1 209.6 564.5C208.4 564.9 205.7 563.4 206.0 562.4Z" fill="#e0e0e0" stroke="#000" stroke-width="0.9" stroke-linejoin="round"/>
<path d="M193.8 560.3C194.5 559.1 196.5 558.7 197.3 559.8C198.1 560.9 198.7 564.5 198.7 567.1C198.7 569.7 197.4 572.7 197.3 575.5C197.2 578.2 197.6 581.2 197.9 583.8C198.3 586.4 199.8 589.7 199.2 591.1C198.6 592.5 195.4 593.4 194.5 592.1C193.6 590.9 193.8 586.8 193.8 583.8C193.7 580.8 194.3 577.2 194.2 574.4C194.1 571.6 193.0 569.5 192.9 567.1C192.9 564.8 193.0 561.6 193.8 560.3Z" fill="#4a4a4a" stroke="#000" stroke-width="0.9" stroke-linejoin="round"/>
<path d="M194.8 562.4C195.2 561.5 196.2 561.2 196.7 562.1C197.1 563.1 197.6 565.9 197.5 568.2C197.5 570.4 196.6 572.8 196.5 575.5C196.4 578.1 196.7 581.4 196.9 583.8C197.1 586.2 198.0 588.8 197.7 589.8C197.5 590.9 196.0 591.3 195.5 590.3C195.1 589.3 195.0 586.4 195.0 583.8C195.0 581.2 195.5 577.1 195.4 574.4C195.3 571.7 194.5 569.6 194.4 567.6C194.3 565.6 194.4 563.3 194.8 562.4Z" fill="#222" stroke="#000" stroke-width="0.8" stroke-linejoin="round"/>
<path d="M199.7 571.3C200.8 569.4 203.7 569.7 205.5 570.2C207.2 570.8 209.2 572.5 210.1 574.4C211.1 576.3 211.2 579.3 211.2 581.7C211.2 584.1 211.3 587.4 210.1 589.0C209.0 590.6 206.1 591.1 204.4 591.1C202.8 591.1 201.2 590.6 200.2 589.0C199.3 587.4 198.8 584.7 198.7 581.7C198.6 578.8 198.6 573.2 199.7 571.3Z" fill="#8c8c8c" stroke="#000" stroke-width="1.0" stroke-linejoin="round"/>
<path d="M201.3 574.4C202.2 573.5 204.7 573.0 206.0 573.4C207.2 573.7 209.1 575.5 208.8 576.5C208.5 577.5 205.7 579.3 204.4 579.6C203.1 580.0 201.3 579.5 200.8 578.6C200.2 577.7 200.4 575.3 201.3 574.4Z" fill="#6e6e6e" stroke="#000" stroke-width="0.8" stroke-linejoin="round"/>
<path d="M200.8 582.2C202.1 581.4 207.2 580.8 208.6 581.7C210.0 582.6 209.9 586.1 209.1 587.4C208.3 588.7 205.3 589.6 203.9 589.5C202.4 589.4 201.0 588.1 200.4 586.9C199.9 585.7 199.4 583.1 200.8 582.2Z" fill="#7a7a7a" stroke="#000" stroke-width="0.8" stroke-linejoin="round"/>
<path d="M211.2 571.3C211.7 570.9 213.0 575.0 214.3 576.5C215.6 578.0 217.4 579.0 218.8 580.1C220.2 581.3 222.0 581.9 222.7 583.3C223.3 584.7 223.3 586.8 222.7 588.5C222.1 590.1 219.9 591.5 219.0 593.2C218.1 594.8 218.7 598.2 217.4 598.4C216.2 598.6 212.8 596.3 211.7 594.2C210.6 592.1 210.9 588.5 210.9 585.9C210.8 583.3 211.4 581.0 211.5 578.6C211.6 576.1 210.7 571.6 211.2 571.3Z" fill="#3a3a3a" stroke="#000" stroke-width="0.8" stroke-linejoin="round"/>
<path d="M215.9 581.7C216.8 581.2 220.3 582.7 221.1 583.8C221.9 584.9 221.5 587.0 220.9 588.2C220.3 589.4 218.4 591.3 217.4 591.1C216.5 590.9 215.6 588.5 215.4 586.9C215.1 585.4 214.9 582.2 215.9 581.7Z" fill="#8a8a8a" stroke="#000" stroke-width="0.8" stroke-linejoin="round"/>
<path d="M193.5 590.1C194.6 588.0 198.4 589.0 201.3 589.0C204.2 589.0 207.7 589.5 210.7 590.1C213.6 590.6 217.6 590.4 219.0 592.1C220.4 593.9 219.1 598.0 219.2 600.5C219.4 602.9 220.7 605.4 219.8 606.7C218.9 608.0 216.2 607.5 213.8 608.3C211.4 609.1 208.4 610.7 205.5 611.4C202.5 612.1 198.5 612.4 196.1 612.5C193.6 612.6 191.7 612.7 190.9 611.9C190.0 611.2 190.3 609.5 190.9 607.8C191.4 606.0 193.8 604.5 194.2 601.5C194.6 598.6 192.3 592.1 193.5 590.1Z" fill="#1c1c1c" stroke="#000" stroke-width="0.8" stroke-linejoin="round"/>
<path d="M200.2 594.2C201.8 593.5 207.9 592.7 209.6 593.2C211.4 593.6 211.5 596.0 210.7 596.8C209.8 597.7 206.1 598.3 204.4 598.4C202.7 598.5 201.1 598.0 200.4 597.4C199.8 596.7 198.7 594.9 200.2 594.2Z" fill="#444" stroke="#000" stroke-width="0.8" stroke-linejoin="round"/>
<path d="M192.4 606.7C193.5 605.5 197.7 604.7 201.3 603.6C204.8 602.6 211.4 600.5 213.8 600.5C216.2 600.5 217.4 602.4 215.9 603.6C214.3 604.8 207.9 606.6 204.4 607.8C200.9 609.0 197.0 611.1 195.0 610.9C193.0 610.7 191.4 608.0 192.4 606.7Z" fill="#3c3c3c" stroke="#000" stroke-width="0.8" stroke-linejoin="round"/>
<path d="M196.1 608.3C197.1 607.6 202.8 605.7 204.4 605.7C206.0 605.7 206.5 607.6 205.5 608.3C204.4 609.0 199.7 610.1 198.2 610.1C196.6 610.1 195.0 609.0 196.1 608.3Z" fill="#777" stroke="#000" stroke-width="0.7" stroke-linejoin="round"/>
<path d="M189.3 603.6C190.0 602.2 192.1 600.7 192.4 601.5C192.8 602.4 191.4 606.9 191.4 608.8C191.4 610.7 192.8 612.1 192.4 613.0C192.1 613.9 190.0 614.8 189.3 614.2C188.6 613.7 188.2 611.6 188.2 609.9C188.2 608.1 188.6 605.0 189.3 603.6Z" fill="#c8c8c8" stroke="#000" stroke-width="0.9" stroke-linejoin="round"/>
<path d="M196.1 559.7C197.4 559.1 198.5 561.0 199.9 561.3C201.3 561.7 202.8 562.6 204.6 562.0C206.3 561.4 208.5 558.7 210.2 558.0C211.9 557.3 213.9 557.3 214.9 557.8C215.8 558.3 216.0 559.7 215.8 561.1C215.7 562.5 214.4 564.7 213.9 566.2C213.5 567.7 212.9 568.4 213.0 570.0C213.1 571.5 213.8 574.2 214.4 575.6C215.0 577.0 215.6 577.8 216.8 578.6C217.9 579.4 220.3 579.4 221.4 580.3C222.6 581.2 223.5 582.5 223.8 584.1C224.1 585.6 224.0 588.0 223.3 589.7C222.6 591.4 220.4 592.7 219.6 594.4C218.8 596.1 218.6 598.3 218.6 600.0C218.6 601.7 219.7 603.4 219.6 604.7C219.4 606.0 218.8 607.0 217.7 607.5C216.6 608.0 214.4 607.3 213.0 607.5C211.6 607.7 210.5 608.2 209.2 608.6C208.0 609.1 207.1 609.9 205.5 610.3C203.9 610.8 201.6 611.0 199.9 611.3C198.1 611.5 196.7 611.6 195.2 611.8C193.7 612.1 191.9 613.1 190.9 612.7C190.0 612.3 189.8 610.6 189.5 609.4C189.2 608.2 188.6 607.2 189.1 605.6C189.5 604.1 191.5 601.7 192.4 600.0C193.2 598.3 194.1 597.2 194.2 595.3C194.4 593.4 193.6 590.9 193.3 588.7C193.0 586.6 192.3 584.4 192.4 582.2C192.4 580.0 193.8 577.8 193.8 575.6C193.8 573.4 192.6 570.8 192.4 569.0C192.1 567.2 191.7 566.4 192.4 564.8C193.0 563.3 194.9 560.2 196.1 559.7Z" fill="none" stroke="#000" stroke-width="0.7" stroke-linejoin="round"/>
<path d="M197.2 562.6C198.3 562.1 199.3 563.8 200.5 564.1C201.8 564.5 203.2 565.2 204.7 564.7C206.2 564.2 208.2 561.7 209.7 561.1C211.2 560.5 213.0 560.5 213.9 561.0C214.7 561.4 214.8 562.6 214.7 563.9C214.6 565.1 213.5 567.1 213.0 568.5C212.6 569.8 212.1 570.4 212.2 571.8C212.3 573.2 212.9 575.5 213.5 576.8C214.0 578.1 214.5 578.8 215.5 579.5C216.6 580.2 218.7 580.2 219.7 581.0C220.8 581.8 221.5 582.9 221.8 584.3C222.1 585.7 222.0 587.8 221.4 589.3C220.8 590.8 218.7 592.0 218.0 593.5C217.3 595.0 217.2 597.0 217.2 598.5C217.2 600.0 218.2 601.6 218.0 602.7C217.9 603.8 217.3 604.7 216.4 605.2C215.4 605.6 213.5 605.0 212.2 605.2C211.0 605.3 210.0 605.7 208.9 606.2C207.8 606.6 206.9 607.3 205.5 607.7C204.1 608.1 202.1 608.3 200.5 608.5C199.0 608.7 197.7 608.8 196.4 609.0C195.0 609.2 193.4 610.1 192.6 609.8C191.8 609.4 191.6 607.9 191.3 606.8C191.1 605.8 190.5 604.9 190.9 603.5C191.3 602.1 193.1 600.0 193.8 598.5C194.6 597.0 195.4 596.0 195.5 594.3C195.7 592.7 195.0 590.4 194.7 588.5C194.4 586.5 193.8 584.6 193.8 582.6C193.9 580.7 195.1 578.7 195.1 576.8C195.1 574.9 194.1 572.6 193.8 571.0C193.6 569.4 193.3 568.6 193.8 567.2C194.4 565.8 196.1 563.1 197.2 562.6Z" fill="none" stroke="#000" stroke-width="0.7" stroke-linejoin="round"/>
<path d="M206.0 563.1L207.7 564.8L209.6 563.8" fill="none" stroke="#000" stroke-width="1.2" stroke-linejoin="round"/>
<path d="M214.8 584.8L216.9 589.0L219.0 585.9L221.1 589.0" fill="none" stroke="#000" stroke-width="0.9" stroke-linejoin="round"/>
<path d="M201.3 598.4L205.5 601.0L211.7 598.4L215.9 600.5" fill="none" stroke="#666" stroke-width="0.8" stroke-linejoin="round"/>
<path d="M202.5 561.7C203.8 560.1 208.7 558.0 210.7 557.3C212.7 556.6 214.0 556.8 214.6 557.5C215.2 558.2 214.8 559.8 214.2 561.4C213.6 562.9 212.4 565.6 211.2 566.9C209.9 568.2 208.0 569.0 206.7 569.0C205.4 569.0 203.9 568.1 203.2 566.9C202.5 565.7 201.3 563.3 202.5 561.7Z" fill="#cccccc" stroke="#000" stroke-width="0.9" stroke-linejoin="round"/>
<path d="M206.5 562.4C206.7 561.6 210.1 559.4 211.2 559.0C212.3 558.6 213.4 559.2 213.2 560.0C212.9 560.9 210.9 563.8 209.8 564.2C208.7 564.6 206.3 563.3 206.5 562.4Z" fill="#e4e4e4" stroke="#000" stroke-width="0.8" stroke-linejoin="round"/>
<path d="M206.0 563.6L207.7 565.0L209.6 564.0" fill="none" stroke="#000" stroke-width="1.2" stroke-linejoin="round"/>
<path d="M200.2 571.8C201.0 570.6 203.9 570.3 205.5 570.8C207.0 571.2 209.6 573.3 209.6 574.6C209.6 576.0 206.9 578.2 205.5 578.8C204.0 579.4 201.6 579.2 200.8 578.1C199.9 576.9 199.5 573.0 200.2 571.8Z" fill="#8c8c8c" stroke="#000" stroke-width="0.8" stroke-linejoin="round"/>
</g>
<rect x="65.5" y="429.5" width="289.0" height="17.600000000000023" fill="none" stroke="#000" stroke-width="1.2"/>
<rect x="65.5" y="447.1" width="289.0" height="288.4" fill="none" stroke="#000" stroke-width="1.2"/>
<line x1="67.4" y1="429.5" x2="67.4" y2="438.8" stroke="#000" stroke-width="1.2"/>
<text x="69.2" y="425.7" font-family='"Liberation Sans", sans-serif' font-size="6.4" text-anchor="end" font-weight="bold" textLength="3.2" lengthAdjust="spacing" stroke="#000" stroke-width="0.22">0</text>
<line x1="177.4" y1="429.5" x2="177.4" y2="438.8" stroke="#000" stroke-width="1.2"/>
<text x="179.20000000000002" y="425.7" font-family='"Liberation Sans", sans-serif' font-size="6.4" text-anchor="end" font-weight="bold" textLength="7.4" lengthAdjust="spacing" stroke="#000" stroke-width="0.22">50</text>
<line x1="287.5" y1="429.5" x2="287.5" y2="438.8" stroke="#000" stroke-width="1.2"/>
<text x="289.3" y="425.7" font-family='"Liberation Sans", sans-serif' font-size="6.4" text-anchor="end" font-weight="bold" textLength="12.0" lengthAdjust="spacing" stroke="#000" stroke-width="0.22">100</text>
<line x1="97.5" y1="447.1" x2="97.5" y2="455.1" stroke="#000" stroke-width="1.2"/>
<line x1="97.5" y1="735.5" x2="97.5" y2="727.5" stroke="#000" stroke-width="1.2"/>
<line x1="132.6" y1="447.1" x2="132.6" y2="455.1" stroke="#000" stroke-width="1.2"/>
<line x1="132.6" y1="735.5" x2="132.6" y2="727.5" stroke="#000" stroke-width="1.2"/>
<line x1="167.7" y1="447.1" x2="167.7" y2="455.1" stroke="#000" stroke-width="1.2"/>
<line x1="167.7" y1="735.5" x2="167.7" y2="727.5" stroke="#000" stroke-width="1.2"/>
<line x1="203.0" y1="447.1" x2="203.0" y2="455.1" stroke="#000" stroke-width="1.2"/>
<line x1="203.0" y1="735.5" x2="203.0" y2="727.5" stroke="#000" stroke-width="1.2"/>
<line x1="238.3" y1="447.1" x2="238.3" y2="455.1" stroke="#000" stroke-width="1.2"/>
<line x1="238.3" y1="735.5" x2="238.3" y2="727.5" stroke="#000" stroke-width="1.2"/>
<line x1="273.5" y1="447.1" x2="273.5" y2="455.1" stroke="#000" stroke-width="1.2"/>
<line x1="273.5" y1="735.5" x2="273.5" y2="727.5" stroke="#000" stroke-width="1.2"/>
<line x1="308.5" y1="447.1" x2="308.5" y2="455.1" stroke="#000" stroke-width="1.2"/>
<line x1="308.5" y1="735.5" x2="308.5" y2="727.5" stroke="#000" stroke-width="1.2"/>
<line x1="344.3" y1="447.1" x2="344.3" y2="455.1" stroke="#000" stroke-width="1.2"/>
<line x1="344.3" y1="735.5" x2="344.3" y2="727.5" stroke="#000" stroke-width="1.2"/>
<text x="93.9" y="746.9" font-family='"Liberation Sans", sans-serif' font-size="6.4" text-anchor="end" font-weight="bold" textLength="43.2" lengthAdjust="spacing" stroke="#000" stroke-width="0.22">12 36 28.0</text>
<text x="132.29999999999998" y="746.9" font-family='"Liberation Sans", sans-serif' font-size="6.4" text-anchor="end" font-weight="bold" textLength="17.2" lengthAdjust="spacing" stroke="#000" stroke-width="0.22">27.5</text>
<text x="167.39999999999998" y="746.9" font-family='"Liberation Sans", sans-serif' font-size="6.4" text-anchor="end" font-weight="bold" textLength="17.2" lengthAdjust="spacing" stroke="#000" stroke-width="0.22">27.0</text>
<text x="202.7" y="746.9" font-family='"Liberation Sans", sans-serif' font-size="6.4" text-anchor="end" font-weight="bold" textLength="17.2" lengthAdjust="spacing" stroke="#000" stroke-width="0.22">26.5</text>
<text x="238.0" y="746.9" font-family='"Liberation Sans", sans-serif' font-size="6.4" text-anchor="end" font-weight="bold" textLength="17.2" lengthAdjust="spacing" stroke="#000" stroke-width="0.22">26.0</text>
<text x="273.2" y="746.9" font-family='"Liberation Sans", sans-serif' font-size="6.4" text-anchor="end" font-weight="bold" textLength="17.2" lengthAdjust="spacing" stroke="#000" stroke-width="0.22">25.5</text>
<text x="308.2" y="746.9" font-family='"Liberation Sans", sans-serif' font-size="6.4" text-anchor="end" font-weight="bold" textLength="17.2" lengthAdjust="spacing" stroke="#000" stroke-width="0.22">25.0</text>
<text x="344.0" y="746.9" font-family='"Liberation Sans", sans-serif' font-size="6.4" text-anchor="end" font-weight="bold" textLength="17.2" lengthAdjust="spacing" stroke="#000" stroke-width="0.22">24.5</text>
<line x1="65.5" y1="454.5" x2="73.5" y2="454.5" stroke="#000" stroke-width="1.2"/>
<line x1="354.5" y1="454.5" x2="346.5" y2="454.5" stroke="#000" stroke-width="1.2"/>
<text x="57.2" y="458.0" font-family='"Liberation Sans", sans-serif' font-size="6.4" text-anchor="end" font-weight="bold" textLength="35.2" lengthAdjust="spacing" stroke="#000" stroke-width="0.22">14 30 15</text>
<line x1="65.5" y1="527.3" x2="73.5" y2="527.3" stroke="#000" stroke-width="1.2"/>
<line x1="354.5" y1="527.3" x2="346.5" y2="527.3" stroke="#000" stroke-width="1.2"/>
<text x="59.9" y="530.8" font-family='"Liberation Sans", sans-serif' font-size="6.4" text-anchor="end" font-weight="bold" textLength="9.3" lengthAdjust="spacing" stroke="#000" stroke-width="0.22">00</text>
<line x1="65.5" y1="599.8" x2="73.5" y2="599.8" stroke="#000" stroke-width="1.2"/>
<line x1="354.5" y1="599.8" x2="346.5" y2="599.8" stroke="#000" stroke-width="1.2"/>
<text x="58.3" y="603.3" font-family='"Liberation Sans", sans-serif' font-size="6.4" text-anchor="end" font-weight="bold" textLength="22.5" lengthAdjust="spacing" stroke="#000" stroke-width="0.22">29 45</text>
<line x1="65.5" y1="672.6" x2="73.5" y2="672.6" stroke="#000" stroke-width="1.2"/>
<line x1="354.5" y1="672.6" x2="346.5" y2="672.6" stroke="#000" stroke-width="1.2"/>
<text x="59.9" y="676.1" font-family='"Liberation Sans", sans-serif' font-size="6.4" text-anchor="end" font-weight="bold" textLength="9.0" lengthAdjust="spacing" stroke="#000" stroke-width="0.22">30</text>
<text x="153.7" y="757.0" font-family='"Liberation Sans", sans-serif' font-size="6.4" text-anchor="start" font-weight="bold" textLength="128.9" lengthAdjust="spacing" stroke="#000" stroke-width="0.22">RIGHT ASCENSION (J2000)</text>
<text transform="translate(9.3 586.0) rotate(-90)" font-family='"Liberation Sans", sans-serif' font-size="10" font-weight="bold" text-anchor="middle" textLength="104" lengthAdjust="spacingAndGlyphs">DECLINATION (J2000)</text>
<rect x="69.4" y="713.3" width="16.5" height="19.0" fill="#fff" stroke="#000" stroke-width="1"/>
<ellipse cx="77.65" cy="722.8" rx="5.0" ry="6.3" fill="none" stroke="#000" stroke-width="1.1" transform="rotate(25 77.65 722.8)"/>
<rect x="459.5" y="428.2" width="287.5" height="15.900000000000034" fill="url(#cbar)"/>
<g clip-path="url(#cbr)">
<path d="M458.9 445.5L465.6 445.5L465.6 447.8L462.2 448.2L462.2 450.0L466.5 450.4L466.5 451.6L458.9 451.6Z" fill="#333" stroke="#000" stroke-width="1.2" stroke-linejoin="round"/>
<rect x="472.4" y="445.8" width="3.4" height="1.3" fill="#000"/>
<rect x="527.0" y="445.8" width="2.6" height="1.3" fill="#000"/>
<rect x="548.4" y="449.3" width="3.4" height="3.4" rx="0.8" fill="#aaa" stroke="#000" stroke-width="1.2"/>
<rect x="465.4" y="468.4" width="6.0" height="8.7" rx="0.8" fill="#eee" stroke="#000" stroke-width="1.2"/>
<rect x="471.0" y="474.2" width="2.3" height="3.0" rx="0.8" fill="#333" stroke="#000" stroke-width="1.2"/>
<rect x="459.6" y="470.8" width="1.3" height="3.8" fill="#000"/>
<rect x="479.6" y="470.3" width="7.9" height="9.8" rx="2.5" fill="#6e6e6e" stroke="#000" stroke-width="1.2"/>
<ellipse cx="595.4" cy="475.2" rx="2.3" ry="2.3" fill="#333" stroke="#000" stroke-width="1.2"/>
<path d="M459.5 493.5L462.7 496.0L466.5 499.8L464.6 504.5L461.8 509.2L458.9 509.2Z" fill="#aaa" stroke="#000" stroke-width="1.2" stroke-linejoin="round"/>
<rect x="468.0" y="500.5" width="3.4" height="4.9" rx="0.8" fill="#222" stroke="#000" stroke-width="1.2"/>
<path d="M481.6 511.7L486.4 511.7L487.9 515.5L482.2 515.5Z" fill="#555" stroke="#000" stroke-width="1.2" stroke-linejoin="round"/>
<path d="M459.5 524.9L465.9 524.9L465.9 531.3L459.5 531.3Z" fill="#fff" stroke="#000" stroke-width="1.2" stroke-linejoin="round"/>
<path d="M463.7 524.9L463.7 527.2L465.9 527.2" fill="none" stroke="#000" stroke-width="1.2" stroke-linejoin="round"/>
<path d="M551.6 528.1L557.2 527.2L557.8 531.3L552.1 532.5Z" fill="#666" stroke="#000" stroke-width="1.2" stroke-linejoin="round"/>
<ellipse cx="562.9" cy="530.4" rx="1.7" ry="2.1" fill="#fff" stroke="#000" stroke-width="1.2" transform="rotate(20 562.9 530.4)"/>
<rect x="482.2" y="540.2" width="2.6" height="1.5" fill="#000"/>
<path d="M559.1 547.6L561.0 544.6L564.8 545.1L565.8 547.6Z" fill="#aaa" stroke="#000" stroke-width="1.2" stroke-linejoin="round"/>
<path d="M572.4 541.4L575.2 542.3L576.7 546.1L575.2 549.9L572.4 550.8Z" fill="#777" stroke="#000" stroke-width="1.2" stroke-linejoin="round"/>
<rect x="463.3" y="556.3" width="5.3" height="4.2" rx="0.8" fill="#bbb" stroke="#000" stroke-width="1.2"/>
<path d="M475.4 571.6L480.7 570.3L486.4 565.9L493.0 563.5L495.8 562.7L495.4 566.5L491.6 570.3L484.5 572.2L479.2 575.4L475.4 575.4Z" fill="#555" stroke="#000" stroke-width="1.2" stroke-linejoin="round"/>
<path d="M525.7 570.3L530.2 569.1L530.8 575.4L527.0 575.4Z" fill="#fff" stroke="#000" stroke-width="1.2" stroke-linejoin="round"/>
<rect x="492.2" y="585.2" width="3.4" height="3.0" rx="0.8" fill="#fff" stroke="#000" stroke-width="1.2"/>
<rect x="577.1" y="585.0" width="3.8" height="3.4" rx="0.8" fill="#000" stroke="#000" stroke-width="1.2"/>
<rect x="616.0" y="457.0" width="3.4" height="1.5" fill="#000"/>
<path d="M651.2 450.8C651.4 449.9 653.0 448.4 654.4 447.8C655.8 447.2 658.1 446.8 659.7 447.0C661.3 447.3 663.4 448.2 664.2 449.3C665.1 450.4 665.3 452.5 665.0 453.8C664.7 455.2 663.6 456.7 662.5 457.2C661.5 457.8 659.8 457.8 658.8 457.2C657.7 456.7 657.3 454.5 656.3 453.8C655.4 453.1 653.9 453.6 653.1 453.1C652.2 452.6 651.0 451.7 651.2 450.8Z" fill="#e8e8e8" stroke="#000" stroke-width="1.2" stroke-linejoin="round"/>
<path d="M729.3 453.5C730.0 452.3 732.6 451.7 733.4 452.5C734.3 453.3 734.7 456.7 734.6 458.2C734.4 459.7 733.4 461.2 732.5 461.4C731.6 461.5 729.8 460.4 729.3 459.1C728.7 457.8 728.6 454.6 729.3 453.5Z" fill="#fff" stroke="#000" stroke-width="1.2" stroke-linejoin="round"/>
<path d="M709.2 468.6L714.5 468.2L714.2 471.4L712.3 474.2L708.5 473.9Z" fill="#222" stroke="#000" stroke-width="1.2" stroke-linejoin="round"/>
<rect x="712.3" y="468.6" width="1.9" height="1.9" rx="0.8" fill="#fff" stroke="#000" stroke-width="1"/>
<path d="M723.6 476.5L725.9 479.0L730.0 480.9L730.0 484.6L724.0 486.0Z" fill="#ddd" stroke="#000" stroke-width="1.2" stroke-linejoin="round"/>
<rect x="724.0" y="477.5" width="1.9" height="2.3" rx="0.8" fill="#666" stroke="#000" stroke-width="1"/>
<path d="M731.5 478.0L736.3 477.1L736.3 479.5L731.9 480.3Z" fill="#eee" stroke="#000" stroke-width="1.2" stroke-linejoin="round"/>
<rect x="637.2" y="489.0" width="1.5" height="1.5" fill="#000"/>
<rect x="670.1" y="502.2" width="2.6" height="1.5" fill="#000"/>
<path d="M722.1 500.3L725.5 497.3L728.7 499.2L728.1 503.0L724.0 503.5Z" fill="#999" stroke="#000" stroke-width="1.2" stroke-linejoin="round"/>
<rect x="721.3" y="513.4" width="2.3" height="2.3" rx="0.8" fill="#eee" stroke="#000" stroke-width="1.2"/>
<ellipse cx="692.2" cy="515.5" rx="3.6" ry="4.2" fill="#f0f0f0" stroke="#000" stroke-width="1.2"/>
<path d="M709.8 519.2C710.8 517.4 714.2 517.4 715.5 518.1C716.7 518.8 717.5 521.6 717.4 523.4C717.2 525.2 715.8 527.7 714.5 528.7C713.3 529.6 710.6 530.6 709.8 529.1C709.0 527.5 708.9 521.1 709.8 519.2Z" fill="#3a3a3a" stroke="#000" stroke-width="1.2" stroke-linejoin="round"/>
<path d="M721.7 532.5L726.8 532.5L726.8 535.5L722.5 534.7Z" fill="#aaa" stroke="#000" stroke-width="1.2" stroke-linejoin="round"/>
<rect x="721.1" y="540.2" width="2.6" height="1.5" fill="#000"/>
<rect x="744.4" y="543.2" width="1.5" height="4.5" rx="0.8" fill="#aaa" stroke="#000" stroke-width="1.2"/>
<path d="M629.5 541.4L632.9 540.0L634.8 542.7L631.4 544.6Z" fill="#222" stroke="#000" stroke-width="1.2" stroke-linejoin="round"/>
<rect x="657.4" y="540.4" width="5.3" height="3.8" rx="0.8" fill="#eee" stroke="#000" stroke-width="1.2"/>
<path d="M715.5 548.3L718.7 550.2L724.0 551.4L726.8 553.6L723.0 556.5L718.3 555.5Z" fill="#222" stroke="#000" stroke-width="1.2" stroke-linejoin="round"/>
<path d="M673.3 559.3L676.3 557.0L677.7 560.8L675.2 562.7Z" fill="#444" stroke="#000" stroke-width="1.2" stroke-linejoin="round"/>
<path d="M631.4 560.3L636.1 560.3L635.5 564.6L632.9 564.2Z" fill="#ccc" stroke="#000" stroke-width="1.2" stroke-linejoin="round"/>
<rect x="622.3" y="570.5" width="3.0" height="3.0" rx="0.8" fill="#aaa" stroke="#000" stroke-width="1.2"/>
<rect x="641.0" y="575.0" width="2.6" height="1.5" fill="#000"/>
<path d="M695.6 582.9L701.7 582.4L701.3 586.7L698.5 588.6L695.6 588.6Z" fill="#333" stroke="#000" stroke-width="1.2" stroke-linejoin="round"/>
<path d="M459.5 598.8L463.7 595.6L468.4 596.2L469.0 598.8L463.7 600.0L459.9 602.2Z" fill="#777" stroke="#000" stroke-width="1.2" stroke-linejoin="round"/>
<rect x="479.4" y="602.6" width="5.7" height="2.3" fill="#000"/>
<path d="M506.2 601.3L508.7 599.4L510.6 602.2L510.0 607.0L506.2 607.5Z" fill="#fff" stroke="#000" stroke-width="1.2" stroke-linejoin="round"/>
<rect x="460.5" y="615.3" width="1.9" height="2.3" rx="0.8" fill="#888" stroke="#000" stroke-width="1.2"/>
<rect x="464.6" y="634.2" width="3.8" height="3.0" fill="#000"/>
<rect x="463.5" y="650.2" width="2.3" height="3.0" rx="0.8" fill="#888" stroke="#000" stroke-width="1.2"/>
<rect x="572.0" y="617.2" width="2.6" height="1.5" fill="#000"/>
<rect x="594.1" y="626.1" width="2.6" height="1.5" fill="#000"/>
<rect x="602.0" y="615.3" width="1.3" height="2.3" fill="#000"/>
<path d="M590.3 656.1L594.5 656.1L594.5 662.7L593.2 664.6L594.9 666.5L594.5 671.2L590.7 671.2Z" fill="#222" stroke="#000" stroke-width="1.2" stroke-linejoin="round"/>
<ellipse cx="505.8" cy="665.6" rx="2.6" ry="3.6" fill="#555" stroke="#000" stroke-width="1.2"/>
<path d="M533.2 671.2L540.8 669.3L540.8 679.7L538.3 682.6L535.9 681.6L536.4 676.3L533.6 675.0Z" fill="#ddd" stroke="#000" stroke-width="1.2" stroke-linejoin="round"/>
<path d="M482.6 691.1L486.4 687.3L487.3 684.5L491.6 684.5L491.1 688.2L489.2 692.6L484.5 693.3Z" fill="#777" stroke="#000" stroke-width="1.2" stroke-linejoin="round"/>
<path d="M500.5 685.4L503.7 685.4L504.5 690.1L501.9 691.5Z" fill="#ccc" stroke="#000" stroke-width="1.2" stroke-linejoin="round"/>
<path d="M463.3 694.9L469.3 693.3L469.3 697.7L465.6 698.6Z" fill="#ddd" stroke="#000" stroke-width="1.2" stroke-linejoin="round"/>
<path d="M497.7 698.6C498.2 697.2 499.5 695.7 501.1 695.2C502.7 694.8 506.4 694.5 507.5 695.8C508.7 697.2 508.6 701.6 507.9 703.4C507.2 705.1 505.0 706.1 503.4 706.2C501.7 706.3 499.0 705.2 498.1 703.9C497.1 702.7 497.2 700.1 497.7 698.6Z" fill="#ddd" stroke="#000" stroke-width="1.2" stroke-linejoin="round"/>
<path d="M564.8 686.4L567.6 685.4L568.6 690.1L566.7 694.9L562.3 695.2L562.9 691.1Z" fill="#999" stroke="#000" stroke-width="1.2" stroke-linejoin="round"/>
<path d="M574.3 687.3L579.0 687.3L577.5 690.1L575.6 690.1Z" fill="#111" stroke="#000" stroke-width="1.2" stroke-linejoin="round"/>
<rect x="599.2" y="697.5" width="3.8" height="6.0" rx="0.8" fill="#555" stroke="#000" stroke-width="1.2"/>
<rect x="589.9" y="712.1" width="1.9" height="1.9" fill="#000"/>
<path d="M459.5 702.8L462.2 703.6L462.2 705.8L459.9 707.3" fill="none" stroke="#000" stroke-width="1.2" stroke-linejoin="round"/>
<rect x="489.4" y="729.3" width="5.3" height="1.9" rx="0.8" fill="#555" stroke="#000" stroke-width="1"/>
<line x1="490.51417769376184" y1="725.48393194707" x2="490.51417769376184" y2="732.6672967863894" stroke="#000" stroke-width="1.2"/>
<path d="M510.6 728.5L517.5 726.6L517.5 731.2L513.8 732.1L510.9 731.2Z" fill="#ccc" stroke="#000" stroke-width="1.2" stroke-linejoin="round"/>
<path d="M520.0 724.2L525.7 723.6L525.7 727.9L520.4 727.9Z" fill="#eee" stroke="#000" stroke-width="1.2" stroke-linejoin="round"/>
<rect x="581.8" y="729.6" width="8.7" height="1.5" rx="2" fill="#333" stroke="#000" stroke-width="1"/>
<rect x="686.6" y="591.3" width="3.0" height="3.0" rx="0.8" fill="#666" stroke="#000" stroke-width="1.2"/>
<rect x="708.7" y="601.5" width="3.0" height="3.4" rx="0.8" fill="#eee" stroke="#000" stroke-width="1.2"/>
<path d="M726.8 598.1C727.6 597.3 730.7 596.8 731.5 597.5C732.4 598.2 732.3 601.1 731.9 602.2C731.5 603.4 730.1 604.5 729.3 604.5C728.4 604.5 727.2 603.3 726.8 602.2C726.4 601.2 726.0 598.9 726.8 598.1Z" fill="#444" stroke="#000" stroke-width="1.2" stroke-linejoin="round"/>
<path d="M741.0 607.0L743.8 605.6L746.7 606.4L746.7 610.2L743.3 610.2Z" fill="#eee" stroke="#000" stroke-width="1.2" stroke-linejoin="round"/>
<rect x="688.4" y="618.1" width="3.0" height="3.0" rx="0.8" fill="#333" stroke="#000" stroke-width="1.2"/>
<path d="M730.6 622.1L733.4 621.5L733.4 625.3L730.8 625.7Z" fill="#222" stroke="#000" stroke-width="1.2" stroke-linejoin="round"/>
<path d="M742.5 621.1L746.7 620.8L746.7 626.4L743.3 625.9Z" fill="#eee" stroke="#000" stroke-width="1.2" stroke-linejoin="round"/>
<path d="M629.5 626.8L633.2 624.5L638.0 624.5L637.4 629.6L630.4 630.6Z" fill="#888" stroke="#000" stroke-width="1.2" stroke-linejoin="round"/>
<rect x="701.7" y="633.4" width="3.0" height="3.0" rx="0.8" fill="#555" stroke="#000" stroke-width="1.2"/>
<path d="M728.7 630.6C729.3 629.0 732.5 628.3 733.4 629.6C734.4 631.0 734.9 637.0 734.4 638.5C733.8 640.1 731.0 640.4 730.0 639.1C729.1 637.8 728.1 632.2 728.7 630.6Z" fill="#222" stroke="#000" stroke-width="1.2" stroke-linejoin="round"/>
<path d="M622.3 648.5L625.3 648.0L629.5 649.9L629.5 652.9L624.2 652.9Z" fill="#ccc" stroke="#000" stroke-width="1.2" stroke-linejoin="round"/>
<line x1="625.3062381852552" y1="645.710775047259" x2="625.3062381852552" y2="650.4366729678638" stroke="#000" stroke-width="1.2"/>
<path d="M733.4 653.3L736.5 653.3L736.5 658.6L733.8 658.6Z" fill="#222" stroke="#000" stroke-width="1.2" stroke-linejoin="round"/>
<rect x="730.4" y="663.5" width="6.0" height="5.3" rx="0.8" fill="#aaa" stroke="#000" stroke-width="1.2"/>
<path d="M733.8 669.3L739.5 668.4L740.6 671.8L735.3 672.6Z" fill="#ccc" stroke="#000" stroke-width="1.2" stroke-linejoin="round"/>
<rect x="743.5" y="661.0" width="1.9" height="7.2" rx="0.8" fill="#555" stroke="#000" stroke-width="1.2"/>
<line x1="728.1417769376181" y1="666.1266540642722" x2="730.7882797731569" y2="666.1266540642722" stroke="#000" stroke-width="1.2"/>
<ellipse cx="609.6" cy="676.0" rx="1.1" ry="1.5" fill="#ccc" stroke="#000" stroke-width="1.2"/>
<path d="M645.5 685.4L648.0 683.9L650.6 685.8L649.9 689.2L646.5 689.2Z" fill="#222" stroke="#000" stroke-width="1.2" stroke-linejoin="round"/>
<rect x="692.0" y="684.3" width="2.6" height="1.5" fill="#000"/>
<path d="M718.7 684.5L722.1 682.0L727.4 682.6L727.4 687.7L718.7 688.2Z" fill="#fff" stroke="#000" stroke-width="1.2" stroke-linejoin="round"/>
<rect x="742.1" y="681.8" width="1.5" height="3.4" fill="#000"/>
<rect x="610.6" y="690.5" width="3.0" height="3.0" rx="0.8" fill="#888" stroke="#000" stroke-width="1.2"/>
<path d="M689.6 694.9L692.2 691.1L695.6 691.1L695.2 695.8L692.8 698.3L689.6 697.7Z" fill="#fff" stroke="#000" stroke-width="1.2" stroke-linejoin="round"/>
<path d="M714.5 694.9L718.7 694.5L720.6 697.1L716.4 698.6Z" fill="#222" stroke="#000" stroke-width="1.2" stroke-linejoin="round"/>
<path d="M603.0 695.8L605.8 696.8L606.4 702.0L603.0 703.4Z" fill="#777" stroke="#000" stroke-width="1.2" stroke-linejoin="round"/>
<path d="M619.6 698.6L625.3 698.3L625.7 704.3L622.8 706.2L620.0 703.9Z" fill="#555" stroke="#000" stroke-width="1.2" stroke-linejoin="round"/>
<path d="M723.6 710.9L727.4 710.9L726.8 719.4L724.9 721.3L724.9 725.1L723.2 725.1Z" fill="#ddd" stroke="#000" stroke-width="1.2" stroke-linejoin="round"/>
<path d="M656.9 729.8L659.7 727.9L662.5 729.8L662.5 732.1L656.9 732.1Z" fill="#aaa" stroke="#000" stroke-width="1.2" stroke-linejoin="round"/>
<rect x="723.2" y="730.6" width="7.2" height="1.1" rx="0.8" fill="#ccc" stroke="#000" stroke-width="1"/>
<path d="M631.7 592.8C632.8 591.7 636.8 590.4 638.0 591.8C639.1 593.3 638.1 599.4 638.5 601.3C638.9 603.2 640.1 601.6 640.4 603.2C640.7 604.8 641.9 609.4 640.4 610.7C639.0 612.1 633.1 612.6 631.7 611.3C630.4 610.0 632.4 605.3 632.3 603.2C632.2 601.0 631.4 600.2 631.4 598.5C631.3 596.7 630.6 593.9 631.7 592.8Z" fill="#fff" stroke="#000" stroke-width="1.2" stroke-linejoin="round"/>
<ellipse cx="636.3" cy="609.4" rx="1.7" ry="1.7" fill="#ddd" stroke="#000" stroke-width="1.6"/>
<rect x="577.2" y="585.0" width="3.8" height="3.5" fill="#000"/>
<rect x="601.8" y="614.9" width="1.8" height="2.8" fill="#000"/>
<path d="M584.3 555.6C584.6 554.9 584.2 554.4 585.9 554.1C587.5 553.7 591.8 553.7 594.2 553.6C596.6 553.4 598.9 553.4 600.5 553.0C602.0 552.7 602.2 551.6 603.6 551.3C605.0 551.0 607.8 550.7 608.8 551.3C609.8 551.8 609.7 553.0 609.8 554.6C610.0 556.2 610.0 559.4 609.6 560.9C609.3 562.3 607.9 561.7 607.8 563.5C607.6 565.2 608.5 569.2 608.8 571.3C609.1 573.4 608.5 575.1 609.3 576.0C610.1 576.8 611.9 576.1 613.5 576.5C615.1 576.9 617.7 577.4 618.7 578.6C619.7 579.8 619.8 582.3 619.7 583.8C619.7 585.3 618.8 586.2 618.2 587.4C617.6 588.7 616.8 590.3 616.1 591.1C615.4 591.9 614.6 591.4 614.0 592.1C613.4 592.8 612.5 593.7 612.4 595.3C612.4 596.8 613.4 599.7 613.5 601.5C613.6 603.3 613.5 605.1 613.0 606.2C612.4 607.3 611.9 608.0 610.4 608.3C608.8 608.6 605.1 607.7 603.6 607.8C602.0 607.9 601.7 608.2 601.0 608.8C600.3 609.4 601.1 610.9 599.4 611.4C597.8 611.9 593.3 611.6 591.1 611.7C588.8 611.9 587.5 612.4 585.9 612.5C584.2 612.5 582.1 612.7 581.2 611.9C580.2 611.2 580.6 608.8 580.1 607.8C579.7 606.7 578.5 606.7 578.6 605.7C578.6 604.7 579.8 602.9 580.6 601.5C581.5 600.1 583.1 598.9 583.8 597.4C584.5 595.8 584.8 593.9 584.8 592.1C584.8 590.4 584.0 589.0 583.8 586.9C583.6 584.8 583.6 582.0 583.6 579.6C583.6 577.3 583.3 574.4 583.8 572.8C584.2 571.3 586.1 571.4 586.4 570.2C586.6 569.1 585.8 567.1 585.3 566.1C584.9 565.0 583.8 565.2 583.6 564.0C583.3 562.8 583.6 560.2 583.8 558.8C583.9 557.4 583.9 556.4 584.3 555.6Z" fill="#c4c4c4" stroke="#000" stroke-width="1.4" stroke-linejoin="round"/>
<path d="M583.8 572.8C584.7 570.9 588.5 570.0 589.5 570.2C590.5 570.5 589.9 572.7 590.0 574.4C590.2 576.1 590.0 579.1 590.5 580.7C591.1 582.2 591.9 583.1 593.2 583.8C594.5 584.5 596.5 585.0 598.4 584.8C600.3 584.7 602.7 582.9 604.6 582.8C606.5 582.6 608.3 583.3 609.8 583.8C611.4 584.3 612.8 585.2 614.0 585.9C615.2 586.6 616.8 587.1 617.1 588.0C617.5 588.8 616.5 590.4 615.9 591.1C615.3 591.8 614.3 591.6 613.5 592.1C612.7 592.7 612.0 594.0 610.9 594.2C609.8 594.5 607.9 594.2 606.7 593.7C605.5 593.2 604.6 591.9 603.6 591.1C602.5 590.3 602.0 589.4 600.5 589.0C598.9 588.7 596.1 588.8 594.2 589.0C592.3 589.2 590.5 590.1 589.0 590.1C587.4 590.1 585.7 590.4 584.8 589.0C583.9 587.6 583.9 584.4 583.8 581.7C583.6 579.0 582.8 574.8 583.8 572.8Z" fill="#a8a8a8" stroke="#000" stroke-width="1.0" stroke-linejoin="round"/>
<path d="M584.8 589.0C585.5 588.7 587.4 590.1 589.0 590.1C590.5 590.1 592.3 589.2 594.2 589.0C596.1 588.8 598.9 588.7 600.5 589.0C602.0 589.4 602.5 590.3 603.6 591.1C604.6 591.9 605.5 593.2 606.7 593.7C607.9 594.2 609.9 594.0 610.9 594.2C611.8 594.5 612.1 594.0 612.4 595.3C612.8 596.5 613.1 599.7 613.2 601.5C613.2 603.3 613.2 605.1 612.8 606.2C612.3 607.3 611.9 607.8 610.4 608.0C608.8 608.2 605.0 608.5 603.6 607.6C602.2 606.7 602.9 603.8 602.0 602.6C601.1 601.3 599.8 600.6 598.4 600.0C596.9 599.4 594.9 599.2 593.2 598.9C591.4 598.7 589.3 598.7 587.9 598.4C586.6 598.0 585.4 597.9 584.8 596.8C584.3 595.8 584.6 593.4 584.6 592.1C584.6 590.8 584.1 589.4 584.8 589.0Z" fill="#808080" stroke="#000" stroke-width="1.0" stroke-linejoin="round"/>
<path d="M584.8 596.8C584.6 596.1 586.6 598.0 587.9 598.4C589.3 598.7 591.4 598.7 593.2 598.9C594.9 599.2 596.9 599.4 598.4 600.0C599.8 600.6 601.2 601.3 602.0 602.6C602.8 603.8 603.2 606.5 603.1 607.6C602.9 608.6 601.6 608.2 601.0 608.8C600.4 609.5 601.1 610.9 599.4 611.4C597.8 611.9 592.7 612.5 591.1 611.7C589.4 611.0 589.9 608.3 589.5 606.7C589.2 605.2 589.8 604.2 589.0 602.6C588.2 600.9 585.0 597.5 584.8 596.8Z" fill="#5a5a5a" stroke="#000" stroke-width="1.0" stroke-linejoin="round"/>
<path d="M580.6 601.5C581.5 600.1 583.0 598.1 583.8 597.4C584.5 596.6 584.2 596.3 585.0 597.1C585.9 598.0 588.2 601.0 589.0 602.6C589.7 604.2 589.3 605.2 589.5 606.7C589.7 608.3 590.6 610.8 590.0 611.7C589.4 612.7 587.3 612.4 585.9 612.5C584.4 612.5 582.1 612.7 581.2 611.9C580.2 611.2 580.6 608.8 580.1 607.8C579.7 606.7 578.5 606.7 578.6 605.7C578.6 604.7 579.8 602.9 580.6 601.5Z" fill="#333" stroke="#000" stroke-width="1.0" stroke-linejoin="round"/>
<ellipse cx="597.3" cy="607.3" rx="2.5" ry="2.7" fill="#484848" stroke="#000" stroke-width="1.0"/>
<path d="M592.6 555.6C593.7 554.8 597.5 554.7 599.4 554.1C601.3 553.5 602.6 552.3 604.1 552.0C605.6 551.6 607.8 550.5 608.6 552.0C609.4 553.5 609.2 558.9 609.0 560.9C608.8 562.8 607.4 561.7 607.2 563.5C607.1 565.2 608.0 569.2 608.3 571.3C608.5 573.4 609.7 574.8 608.6 576.0C607.5 577.1 603.4 577.8 601.5 578.1C599.6 578.3 598.2 578.1 597.3 577.5C596.5 576.9 595.9 575.5 596.3 574.4C596.6 573.4 598.6 572.8 599.4 571.3C600.2 569.7 601.5 566.8 601.0 565.0C600.5 563.3 597.6 561.8 596.3 560.9C594.9 559.9 593.6 560.2 592.9 559.3C592.3 558.4 591.6 556.5 592.6 555.6Z" fill="#e2e2e2" stroke="#000" stroke-width="1.0" stroke-linejoin="round"/>
<ellipse cx="586.4" cy="587.4" rx="2.0" ry="1.8" fill="#8a8a8a" stroke="#000" stroke-width="0.9"/>
<ellipse cx="586.4" cy="591.6" rx="1.5" ry="2.2" fill="#b0b0b0" stroke="#000" stroke-width="0.9" transform="rotate(20 586.4 591.6)"/>
<path d="M584.3 555.6C584.6 554.9 584.2 554.4 585.9 554.1C587.5 553.7 591.8 553.7 594.2 553.6C596.6 553.4 598.9 553.4 600.5 553.0C602.0 552.7 602.2 551.6 603.6 551.3C605.0 551.0 607.8 550.7 608.8 551.3C609.8 551.8 609.7 553.0 609.8 554.6C610.0 556.2 610.0 559.4 609.6 560.9C609.3 562.3 607.9 561.7 607.8 563.5C607.6 565.2 608.5 569.2 608.8 571.3C609.1 573.4 608.5 575.1 609.3 576.0C610.1 576.8 611.9 576.1 613.5 576.5C615.1 576.9 617.7 577.4 618.7 578.6C619.7 579.8 619.8 582.3 619.7 583.8C619.7 585.3 618.8 586.2 618.2 587.4C617.6 588.7 616.8 590.3 616.1 591.1C615.4 591.9 614.6 591.4 614.0 592.1C613.4 592.8 612.5 593.7 612.4 595.3C612.4 596.8 613.4 599.7 613.5 601.5C613.6 603.3 613.5 605.1 613.0 606.2C612.4 607.3 611.9 608.0 610.4 608.3C608.8 608.6 605.1 607.7 603.6 607.8C602.0 607.9 601.7 608.2 601.0 608.8C600.3 609.4 601.1 610.9 599.4 611.4C597.8 611.9 593.3 611.6 591.1 611.7C588.8 611.9 587.5 612.4 585.9 612.5C584.2 612.5 582.1 612.7 581.2 611.9C580.2 611.2 580.6 608.8 580.1 607.8C579.7 606.7 578.5 606.7 578.6 605.7C578.6 604.7 579.8 602.9 580.6 601.5C581.5 600.1 583.1 598.9 583.8 597.4C584.5 595.8 584.8 593.9 584.8 592.1C584.8 590.4 584.0 589.0 583.8 586.9C583.6 584.8 583.6 582.0 583.6 579.6C583.6 577.3 583.3 574.4 583.8 572.8C584.2 571.3 586.1 571.4 586.4 570.2C586.6 569.1 585.8 567.1 585.3 566.1C584.9 565.0 583.8 565.2 583.6 564.0C583.3 562.8 583.6 560.2 583.8 558.8C583.9 557.4 583.9 556.4 584.3 555.6Z" fill="none" stroke="#000" stroke-width="1.4" stroke-linejoin="round"/>
</g>
<rect x="458.5" y="427.2" width="289.0" height="16.900000000000034" fill="none" stroke="#000" stroke-width="1.2"/>
<rect x="458.5" y="444.1" width="289.0" height="289.4" fill="none" stroke="#000" stroke-width="1.2"/>
<line x1="531.4" y1="427.2" x2="531.4" y2="436.5" stroke="#000" stroke-width="1.2"/>
<text x="533.1999999999999" y="422.8" font-family='"Liberation Sans", sans-serif' font-size="6.4" text-anchor="end" font-weight="bold" textLength="12.0" lengthAdjust="spacing" stroke="#000" stroke-width="0.22">400</text>
<line x1="607.3" y1="427.2" x2="607.3" y2="436.5" stroke="#000" stroke-width="1.2"/>
<text x="609.0999999999999" y="422.8" font-family='"Liberation Sans", sans-serif' font-size="6.4" text-anchor="end" font-weight="bold" textLength="12.0" lengthAdjust="spacing" stroke="#000" stroke-width="0.22">600</text>
<line x1="683.3" y1="427.2" x2="683.3" y2="436.5" stroke="#000" stroke-width="1.2"/>
<text x="685.0999999999999" y="422.8" font-family='"Liberation Sans", sans-serif' font-size="6.4" text-anchor="end" font-weight="bold" textLength="12.0" lengthAdjust="spacing" stroke="#000" stroke-width="0.22">800</text>
<line x1="490.6" y1="444.1" x2="490.6" y2="452.1" stroke="#000" stroke-width="1.2"/>
<line x1="490.6" y1="733.5" x2="490.6" y2="725.5" stroke="#000" stroke-width="1.2"/>
<line x1="525.7" y1="444.1" x2="525.7" y2="452.1" stroke="#000" stroke-width="1.2"/>
<line x1="525.7" y1="733.5" x2="525.7" y2="725.5" stroke="#000" stroke-width="1.2"/>
<line x1="560.8" y1="444.1" x2="560.8" y2="452.1" stroke="#000" stroke-width="1.2"/>
<line x1="560.8" y1="733.5" x2="560.8" y2="725.5" stroke="#000" stroke-width="1.2"/>
<line x1="596.0" y1="444.1" x2="596.0" y2="452.1" stroke="#000" stroke-width="1.2"/>
<line x1="596.0" y1="733.5" x2="596.0" y2="725.5" stroke="#000" stroke-width="1.2"/>
<line x1="631.4" y1="444.1" x2="631.4" y2="452.1" stroke="#000" stroke-width="1.2"/>
<line x1="631.4" y1="733.5" x2="631.4" y2="725.5" stroke="#000" stroke-width="1.2"/>
<line x1="666.4" y1="444.1" x2="666.4" y2="452.1" stroke="#000" stroke-width="1.2"/>
<line x1="666.4" y1="733.5" x2="666.4" y2="725.5" stroke="#000" stroke-width="1.2"/>
<line x1="701.5" y1="444.1" x2="701.5" y2="452.1" stroke="#000" stroke-width="1.2"/>
<line x1="701.5" y1="733.5" x2="701.5" y2="725.5" stroke="#000" stroke-width="1.2"/>
<line x1="736.7" y1="444.1" x2="736.7" y2="452.1" stroke="#000" stroke-width="1.2"/>
<line x1="736.7" y1="733.5" x2="736.7" y2="725.5" stroke="#000" stroke-width="1.2"/>
<text x="487.0" y="745.2" font-family='"Liberation Sans", sans-serif' font-size="6.4" text-anchor="end" font-weight="bold" textLength="43.2" lengthAdjust="spacing" stroke="#000" stroke-width="0.22">12 36 28.0</text>
<text x="525.4000000000001" y="745.2" font-family='"Liberation Sans", sans-serif' font-size="6.4" text-anchor="end" font-weight="bold" textLength="17.2" lengthAdjust="spacing" stroke="#000" stroke-width="0.22">27.5</text>
<text x="560.5" y="745.2" font-family='"Liberation Sans", sans-serif' font-size="6.4" text-anchor="end" font-weight="bold" textLength="17.2" lengthAdjust="spacing" stroke="#000" stroke-width="0.22">27.0</text>
<text x="595.7" y="745.2" font-family='"Liberation Sans", sans-serif' font-size="6.4" text-anchor="end" font-weight="bold" textLength="17.2" lengthAdjust="spacing" stroke="#000" stroke-width="0.22">26.5</text>
<text x="631.1" y="745.2" font-family='"Liberation Sans", sans-serif' font-size="6.4" text-anchor="end" font-weight="bold" textLength="17.2" lengthAdjust="spacing" stroke="#000" stroke-width="0.22">26.0</text>
<text x="666.1" y="745.2" font-family='"Liberation Sans", sans-serif' font-size="6.4" text-anchor="end" font-weight="bold" textLength="17.2" lengthAdjust="spacing" stroke="#000" stroke-width="0.22">25.5</text>
<text x="701.2" y="745.2" font-family='"Liberation Sans", sans-serif' font-size="6.4" text-anchor="end" font-weight="bold" textLength="17.2" lengthAdjust="spacing" stroke="#000" stroke-width="0.22">25.0</text>
<text x="736.4000000000001" y="745.2" font-family='"Liberation Sans", sans-serif' font-size="6.4" text-anchor="end" font-weight="bold" textLength="17.2" lengthAdjust="spacing" stroke="#000" stroke-width="0.22">24.5</text>
<line x1="458.5" y1="451.5" x2="466.5" y2="451.5" stroke="#000" stroke-width="1.2"/>
<line x1="747.5" y1="451.5" x2="739.5" y2="451.5" stroke="#000" stroke-width="1.2"/>
<text x="450.2" y="455.0" font-family='"Liberation Sans", sans-serif' font-size="6.4" text-anchor="end" font-weight="bold" textLength="35.2" lengthAdjust="spacing" stroke="#000" stroke-width="0.22">14 30 15</text>
<line x1="458.5" y1="524.6" x2="466.5" y2="524.6" stroke="#000" stroke-width="1.2"/>
<line x1="747.5" y1="524.6" x2="739.5" y2="524.6" stroke="#000" stroke-width="1.2"/>
<text x="452.9" y="528.1" font-family='"Liberation Sans", sans-serif' font-size="6.4" text-anchor="end" font-weight="bold" textLength="9.3" lengthAdjust="spacing" stroke="#000" stroke-width="0.22">00</text>
<line x1="458.5" y1="597.4" x2="466.5" y2="597.4" stroke="#000" stroke-width="1.2"/>
<line x1="747.5" y1="597.4" x2="739.5" y2="597.4" stroke="#000" stroke-width="1.2"/>
<text x="451.3" y="600.9" font-family='"Liberation Sans", sans-serif' font-size="6.4" text-anchor="end" font-weight="bold" textLength="22.5" lengthAdjust="spacing" stroke="#000" stroke-width="0.22">29 45</text>
<line x1="458.5" y1="670.5" x2="466.5" y2="670.5" stroke="#000" stroke-width="1.2"/>
<line x1="747.5" y1="670.5" x2="739.5" y2="670.5" stroke="#000" stroke-width="1.2"/>
<text x="452.9" y="674.0" font-family='"Liberation Sans", sans-serif' font-size="6.4" text-anchor="end" font-weight="bold" textLength="9.0" lengthAdjust="spacing" stroke="#000" stroke-width="0.22">30</text>
<text x="546.0" y="755.3" font-family='"Liberation Sans", sans-serif' font-size="6.4" text-anchor="start" font-weight="bold" textLength="128.3" lengthAdjust="spacing" stroke="#000" stroke-width="0.22">RIGHT ASCENSION (J2000)</text>
<text transform="translate(402.5 583.1) rotate(-90)" font-family='"Liberation Sans", sans-serif' font-size="10" font-weight="bold" text-anchor="middle" textLength="104" lengthAdjust="spacingAndGlyphs">DECLINATION (J2000)</text>
<rect x="461.5" y="711.6" width="17.100000000000023" height="17.799999999999955" fill="#fff" stroke="#000" stroke-width="1"/>
<ellipse cx="470.05" cy="720.5" rx="5.0" ry="6.3" fill="none" stroke="#000" stroke-width="1.1" transform="rotate(25 470.05 720.5)"/>
</svg>
<div class="cap" style="left:45.2px;top:791.5px;letter-spacing:0.3px;word-spacing:0px;width:356px;text-align:justify;text-align-last:justify;"><b style="font-size:16.5px;letter-spacing:1.1px">NGC 4548</b>: (tl) DSS b-band 5&prime; &times; 5&prime;; <i>i</i> = 37&deg;;</div>
<div class="cap" style="left:45.2px;top:810.4px;letter-spacing:0.3px;word-spacing:0px;width:76.5px;text-align:justify;text-align-last:justify;"><i>PA</i> = 150&deg;</div>
<div class="cap" style="left:45.2px;top:829.0px;letter-spacing:0.3px;word-spacing:0px;width:356px;text-align:justify;text-align-last:justify;">(bl) Ico: 1&prime; &times; 1&prime;; cl=10 x (1, 2, 3, ..., 12) K km s<sup>&minus;1</sup>.</div>
<div class="cap" style="left:415.3px;top:788.6px;letter-spacing:0.3px;word-spacing:0px;width:352px;text-align:justify;text-align-last:justify;">(tr) PVD: 1&prime; &times; 5&Prime;, PA 150&deg;; cl=0.15 x (1,2,...10) K.</div>
<div class="cap" style="left:415.3px;top:808.6px;letter-spacing:0.3px;word-spacing:0px;width:352px;text-align:justify;text-align-last:justify;">(br) V-field: 1&prime; &times; 1&prime;; cl=300 to 700, every 50 km</div>
<div class="cap" style="left:415.3px;top:827.6px;letter-spacing:0.6px;word-spacing:0px;">s<sup>&minus;1</sup>.</div>
</body></html>
